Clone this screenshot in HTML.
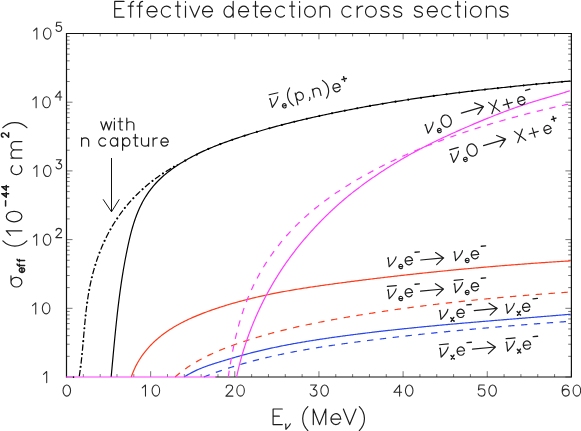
<!DOCTYPE html>
<html><head><meta charset="utf-8"><title>Effective detection cross sections</title>
<style>html,body{margin:0;padding:0;background:#fff;}svg{display:block;}</style></head>
<body>
<svg width="581" height="431" viewBox="0 0 581 431">
<rect width="581" height="431" fill="#fff"/>
<path d="M66.50 377.00 v-5.80 M66.50 33.50 v5.80 M83.33 377.00 v-2.90 M83.33 33.50 v2.90 M100.16 377.00 v-2.90 M100.16 33.50 v2.90 M116.99 377.00 v-2.90 M116.99 33.50 v2.90 M133.82 377.00 v-2.90 M133.82 33.50 v2.90 M150.65 377.00 v-5.80 M150.65 33.50 v5.80 M167.48 377.00 v-2.90 M167.48 33.50 v2.90 M184.31 377.00 v-2.90 M184.31 33.50 v2.90 M201.14 377.00 v-2.90 M201.14 33.50 v2.90 M217.97 377.00 v-2.90 M217.97 33.50 v2.90 M234.80 377.00 v-5.80 M234.80 33.50 v5.80 M251.63 377.00 v-2.90 M251.63 33.50 v2.90 M268.46 377.00 v-2.90 M268.46 33.50 v2.90 M285.29 377.00 v-2.90 M285.29 33.50 v2.90 M302.12 377.00 v-2.90 M302.12 33.50 v2.90 M318.95 377.00 v-5.80 M318.95 33.50 v5.80 M335.78 377.00 v-2.90 M335.78 33.50 v2.90 M352.61 377.00 v-2.90 M352.61 33.50 v2.90 M369.44 377.00 v-2.90 M369.44 33.50 v2.90 M386.27 377.00 v-2.90 M386.27 33.50 v2.90 M403.10 377.00 v-5.80 M403.10 33.50 v5.80 M419.93 377.00 v-2.90 M419.93 33.50 v2.90 M436.76 377.00 v-2.90 M436.76 33.50 v2.90 M453.59 377.00 v-2.90 M453.59 33.50 v2.90 M470.42 377.00 v-2.90 M470.42 33.50 v2.90 M487.25 377.00 v-5.80 M487.25 33.50 v5.80 M504.08 377.00 v-2.90 M504.08 33.50 v2.90 M520.91 377.00 v-2.90 M520.91 33.50 v2.90 M537.74 377.00 v-2.90 M537.74 33.50 v2.90 M554.57 377.00 v-2.90 M554.57 33.50 v2.90 M571.40 377.00 v-5.80 M571.40 33.50 v5.80 M66.50 377.00 h6.00 M571.40 377.00 h-6.00 M66.50 356.32 h3.20 M571.40 356.32 h-3.20 M66.50 344.22 h3.20 M571.40 344.22 h-3.20 M66.50 335.64 h3.20 M571.40 335.64 h-3.20 M66.50 328.98 h3.20 M571.40 328.98 h-3.20 M66.50 323.54 h3.20 M571.40 323.54 h-3.20 M66.50 318.94 h3.20 M571.40 318.94 h-3.20 M66.50 314.96 h3.20 M571.40 314.96 h-3.20 M66.50 311.44 h3.20 M571.40 311.44 h-3.20 M66.50 308.30 h6.00 M571.40 308.30 h-6.00 M66.50 287.62 h3.20 M571.40 287.62 h-3.20 M66.50 275.52 h3.20 M571.40 275.52 h-3.20 M66.50 266.94 h3.20 M571.40 266.94 h-3.20 M66.50 260.28 h3.20 M571.40 260.28 h-3.20 M66.50 254.84 h3.20 M571.40 254.84 h-3.20 M66.50 250.24 h3.20 M571.40 250.24 h-3.20 M66.50 246.26 h3.20 M571.40 246.26 h-3.20 M66.50 242.74 h3.20 M571.40 242.74 h-3.20 M66.50 239.60 h6.00 M571.40 239.60 h-6.00 M66.50 218.92 h3.20 M571.40 218.92 h-3.20 M66.50 206.82 h3.20 M571.40 206.82 h-3.20 M66.50 198.24 h3.20 M571.40 198.24 h-3.20 M66.50 191.58 h3.20 M571.40 191.58 h-3.20 M66.50 186.14 h3.20 M571.40 186.14 h-3.20 M66.50 181.54 h3.20 M571.40 181.54 h-3.20 M66.50 177.56 h3.20 M571.40 177.56 h-3.20 M66.50 174.04 h3.20 M571.40 174.04 h-3.20 M66.50 170.90 h6.00 M571.40 170.90 h-6.00 M66.50 150.22 h3.20 M571.40 150.22 h-3.20 M66.50 138.12 h3.20 M571.40 138.12 h-3.20 M66.50 129.54 h3.20 M571.40 129.54 h-3.20 M66.50 122.88 h3.20 M571.40 122.88 h-3.20 M66.50 117.44 h3.20 M571.40 117.44 h-3.20 M66.50 112.84 h3.20 M571.40 112.84 h-3.20 M66.50 108.86 h3.20 M571.40 108.86 h-3.20 M66.50 105.34 h3.20 M571.40 105.34 h-3.20 M66.50 102.20 h6.00 M571.40 102.20 h-6.00 M66.50 81.52 h3.20 M571.40 81.52 h-3.20 M66.50 69.42 h3.20 M571.40 69.42 h-3.20 M66.50 60.84 h3.20 M571.40 60.84 h-3.20 M66.50 54.18 h3.20 M571.40 54.18 h-3.20 M66.50 48.74 h3.20 M571.40 48.74 h-3.20 M66.50 44.14 h3.20 M571.40 44.14 h-3.20 M66.50 40.16 h3.20 M571.40 40.16 h-3.20 M66.50 36.64 h3.20 M571.40 36.64 h-3.20" stroke="#4a4a4a" stroke-width="0.75" fill="none"/>
<path d="M216.0 377.00 H571.40 V33.50 H66.50 V377.00" fill="none" stroke="#111" stroke-width="1.2" stroke-linejoin="miter" stroke-linecap="square"/>
<g stroke-linecap="butt" stroke-linejoin="round">
<path d="M111.15 377.00 L111.31 375.23 L111.48 373.47 L111.64 371.70 L111.80 369.94 L111.97 368.17 L112.13 366.41 L112.29 364.64 L112.45 362.88 L112.61 361.11 L112.78 359.35 L112.94 357.59 L113.10 355.83 L113.26 354.07 L113.43 352.31 L113.59 350.55 L113.76 348.79 L113.92 347.03 L114.09 345.27 L114.25 343.51 L114.42 341.75 L114.59 340.00 L114.76 338.24 L114.93 336.48 L115.11 334.73 L115.28 332.97 L115.46 331.22 L115.63 329.46 L115.81 327.71 L115.99 325.95 L116.18 324.20 L116.36 322.45 L116.55 320.69 L116.74 318.94 L116.93 317.19 L117.13 315.44 L117.32 313.68 L117.52 311.93 L117.73 310.18 L117.93 308.43 L118.14 306.68 L118.35 304.93 L118.57 303.18 L118.78 301.43 L119.00 299.68 L119.23 297.93 L119.46 296.18 L119.69 294.44 L119.92 292.69 L120.16 290.94 L120.40 289.19 L120.65 287.44 L120.90 285.70 L121.16 283.95 L121.41 282.20 L121.68 280.45 L121.95 278.71 L122.22 276.96 L122.50 275.21 L122.78 273.47 L123.06 271.72 L123.36 269.97 L123.65 268.23 L123.95 266.48 L124.26 264.74 L124.57 262.99 L124.89 261.24 L125.21 259.50 L125.54 257.75 L125.88 256.01 L126.22 254.26 L126.56 252.52 L126.92 250.77 L127.27 249.02 L127.64 247.28 L128.01 245.53 L128.39 243.79 L128.78 242.05 L129.17 240.31 L129.58 238.57 L129.99 236.83 L130.42 235.10 L130.86 233.37 L131.31 231.65 L131.78 229.94 L132.26 228.22 L132.76 226.52 L133.27 224.82 L133.80 223.13 L134.34 221.45 L134.91 219.77 L135.49 218.11 L136.09 216.45 L136.72 214.81 L137.36 213.18 L138.03 211.55 L138.72 209.94 L139.43 208.34 L140.17 206.76 L140.93 205.18 L141.72 203.62 L142.53 202.08 L143.38 200.55 L144.24 199.04 L145.14 197.54 L146.06 196.06 L147.01 194.59 L147.99 193.14 L148.99 191.71 L150.03 190.30 L151.09 188.91 L152.18 187.53 L153.29 186.17 L154.44 184.84 L155.61 183.52 L156.81 182.23 L158.04 180.95 L159.30 179.70 L160.58 178.47 L161.90 177.25 L163.23 176.06 L164.59 174.89 L165.97 173.75 L167.37 172.62 L168.78 171.51 L170.22 170.42 L171.67 169.35 L173.13 168.30 L174.60 167.27 L176.09 166.25 L177.59 165.26 L179.09 164.28 L180.60 163.33 L182.12 162.39 L183.64 161.47 L185.17 160.56 L186.70 159.68 L188.23 158.80 L189.78 157.95 L191.32 157.11 L192.87 156.29 L194.43 155.48 L195.99 154.68 L197.56 153.90 L199.13 153.14 L200.70 152.38 L202.28 151.64 L203.87 150.92 L205.45 150.20 L207.05 149.50 L208.64 148.80 L210.24 148.12 L211.85 147.45 L213.46 146.79 L215.07 146.14 L216.69 145.50 L218.31 144.86 L219.93 144.24 L221.56 143.62 L223.19 143.02 L224.83 142.41 L226.47 141.82 L228.11 141.23 L229.76 140.65 L231.40 140.07 L233.06 139.50 L234.71 138.94 L236.37 138.38 L238.04 137.82 L239.70 137.27 L241.37 136.72 L243.04 136.18 L244.72 135.64 L246.39 135.10 L248.07 134.57 L249.76 134.05 L251.44 133.53 L253.13 133.01 L254.82 132.49 L256.51 131.99 L258.21 131.48 L259.91 130.98 L261.61 130.48 L263.31 129.99 L265.01 129.50 L266.72 129.02 L268.43 128.53 L270.14 128.06 L271.85 127.58 L273.57 127.11 L275.28 126.65 L277.00 126.18 L278.72 125.73 L280.44 125.27 L282.17 124.82 L283.89 124.37 L285.62 123.93 L287.34 123.49 L289.07 123.05 L290.80 122.62 L292.53 122.18 L294.27 121.76 L296.00 121.33 L297.73 120.91 L299.47 120.50 L301.21 120.08 L302.94 119.67 L304.68 119.26 L306.42 118.86 L308.16 118.45 L309.90 118.06 L311.64 117.66 L313.38 117.27 L315.12 116.88 L316.87 116.49 L318.61 116.11 L320.35 115.72 L322.09 115.35 L323.84 114.97 L325.58 114.60 L327.32 114.23 L329.06 113.86 L330.81 113.49 L332.55 113.13 L334.29 112.77 L336.03 112.41 L337.77 112.06 L339.52 111.70 L341.26 111.35 L343.00 111.01 L344.74 110.66 L346.48 110.32 L348.22 109.98 L349.97 109.64 L351.71 109.30 L353.45 108.97 L355.19 108.64 L356.93 108.31 L358.67 107.98 L360.41 107.66 L362.15 107.34 L363.89 107.02 L365.63 106.70 L367.37 106.39 L369.11 106.08 L370.85 105.77 L372.59 105.46 L374.34 105.15 L376.08 104.85 L377.82 104.55 L379.56 104.25 L381.30 103.95 L383.04 103.65 L384.78 103.36 L386.52 103.07 L388.26 102.78 L390.00 102.49 L391.74 102.21 L393.48 101.92 L395.22 101.64 L396.96 101.36 L398.70 101.09 L400.44 100.81 L402.18 100.54 L403.93 100.27 L405.67 100.00 L407.41 99.73 L409.15 99.47 L410.89 99.20 L412.63 98.94 L414.37 98.68 L416.11 98.42 L417.86 98.17 L419.60 97.91 L421.34 97.66 L423.08 97.41 L424.83 97.16 L426.57 96.91 L428.31 96.67 L430.05 96.42 L431.80 96.18 L433.54 95.94 L435.28 95.70 L437.03 95.46 L438.77 95.22 L440.51 94.99 L442.26 94.76 L444.00 94.53 L445.75 94.30 L447.49 94.07 L449.24 93.84 L450.98 93.62 L452.73 93.39 L454.47 93.17 L456.22 92.95 L457.97 92.73 L459.71 92.51 L461.46 92.30 L463.21 92.08 L464.95 91.87 L466.70 91.65 L468.45 91.44 L470.20 91.23 L471.95 91.03 L473.69 90.82 L475.44 90.61 L477.19 90.41 L478.94 90.21 L480.69 90.00 L482.44 89.80 L484.19 89.60 L485.94 89.40 L487.70 89.21 L489.45 89.01 L491.20 88.82 L492.95 88.62 L494.71 88.43 L496.46 88.24 L498.21 88.05 L499.97 87.86 L501.72 87.67 L503.48 87.48 L505.23 87.30 L506.99 87.11 L508.74 86.93 L510.50 86.74 L512.26 86.56 L514.01 86.38 L515.77 86.20 L517.53 86.02 L519.29 85.84 L521.05 85.66 L522.81 85.49 L524.57 85.31 L526.33 85.13 L528.09 84.96 L529.85 84.79 L531.61 84.61 L533.38 84.44 L535.14 84.27 L536.90 84.10 L538.67 83.93 L540.43 83.76 L542.20 83.59 L543.96 83.42 L545.73 83.26 L547.49 83.09 L549.26 82.92 L551.03 82.76 L552.80 82.59 L554.57 82.43 L556.34 82.26 L558.11 82.10 L559.88 81.94 L561.65 81.78 L563.42 81.62 L565.19 81.45 L566.97 81.29 L568.74 81.13 L570.51 80.97" fill="none" stroke="#000" stroke-width="1.20"/>
<path stroke-dashoffset="12.25" d="M79.13 376.98 L79.31 375.89 L79.48 374.79 L79.65 373.69 L79.82 372.59 L79.98 371.49 L80.13 370.38 L80.28 369.28 L80.43 368.17 L80.58 367.06 L80.72 365.95 L80.86 364.83 L80.99 363.72 L81.13 362.60 L81.26 361.48 L81.38 360.36 L81.51 359.24 L81.63 358.12 L81.75 357.00 L81.87 355.87 L81.98 354.74 L82.09 353.62 L82.21 352.49 L82.31 351.36 L82.42 350.23 L82.53 349.09 L82.63 347.96 L82.74 346.83 L82.84 345.69 L82.94 344.56 L83.04 343.42 L83.14 342.28 L83.24 341.14 L83.34 340.01 L83.44 338.87 L83.54 337.73 L83.64 336.59 L83.74 335.44 L83.84 334.30 L83.94 333.16 L84.04 332.02 L84.14 330.87 L84.24 329.73 L84.34 328.59 L84.44 327.44 L84.55 326.30 L84.65 325.16 L84.76 324.01 L84.87 322.87 L84.98 321.72 L85.09 320.58 L85.20 319.44 L85.31 318.29 L85.43 317.15 L85.55 316.00 L85.67 314.86 L85.80 313.72 L85.92 312.57 L86.05 311.43 L86.18 310.29 L86.32 309.15 L86.46 308.01 L86.60 306.87 L86.75 305.73 L86.89 304.59 L87.05 303.45 L87.20 302.31 L87.36 301.18 L87.53 300.04 L87.69 298.90 L87.87 297.77 L88.04 296.64 L88.22 295.51 L88.41 294.37 L88.60 293.24 L88.79 292.11 L89.00 290.99 L89.20 289.86 L89.41 288.73 L89.63 287.61 L89.85 286.49 L90.08 285.37 L90.31 284.25 L90.55 283.13 L90.79 282.01 L91.04 280.90 L91.30 279.78 L91.56 278.67 L91.82 277.56 L92.10 276.45 L92.37 275.34 L92.66 274.24 L92.95 273.13 L93.24 272.03 L93.54 270.93 L93.85 269.84 L94.16 268.74 L94.48 267.65 L94.81 266.56 L95.14 265.47 L95.47 264.38 L95.82 263.30 L96.16 262.21 L96.52 261.13 L96.88 260.06 L97.25 258.98 L97.62 257.91 L98.00 256.84 L98.38 255.77 L98.77 254.71 L99.17 253.64 L99.57 252.58 L99.98 251.53 L100.40 250.47 L100.82 249.42 L101.25 248.37 L101.68 247.33 L102.13 246.29 L102.57 245.25 L103.03 244.21 L103.49 243.18 L103.95 242.15 L104.43 241.12 L104.91 240.10 L105.39 239.08 L105.89 238.06 L106.39 237.04 L106.89 236.03 L107.40 235.03 L107.92 234.02 L108.45 233.02 L108.98 232.03 L109.52 231.03 L110.07 230.04 L110.62 229.06 L111.18 228.08 L111.74 227.10 L112.32 226.12 L112.90 225.15 L113.48 224.19 L114.08 223.23 L114.68 222.27 L115.28 221.31 L115.90 220.36 L116.52 219.42 L117.15 218.47 L117.78 217.54 L118.43 216.60 L119.07 215.67 L119.73 214.75 L120.39 213.83 L121.06 212.91 L121.74 212.00 L122.43 211.09 L123.12 210.19 L123.82 209.29 L124.52 208.40 L125.23 207.51 L125.95 206.63 L126.68 205.75 L127.41 204.88 L128.14 204.01 L128.89 203.14 L129.64 202.28 L130.40 201.43 L131.16 200.58 L131.93 199.74 L132.70 198.90 L133.48 198.07 L134.27 197.24 L135.06 196.42 L135.86 195.61 L136.67 194.80 L137.48 193.99 L138.29 193.19 L139.12 192.40 L139.94 191.61 L140.78 190.83 L141.61 190.05 L142.46 189.28 L143.30 188.52 L144.16 187.76 L145.02 187.01 L145.88 186.26 L146.75 185.52 L147.62 184.79 L148.50 184.06 L149.39 183.34 L150.27 182.63 L151.17 181.92 L152.07 181.22 L152.97 180.53 L153.87 179.84 L154.79 179.16 L155.70 178.48 L156.62 177.82 L157.55 177.16 L158.48 176.50 L159.41 175.85 L160.34 175.21 L161.29 174.58 L162.23 173.95 L163.18 173.33 L164.13 172.71 L165.09 172.10 L166.05 171.50 L167.01 170.90 L167.97 170.31 L168.94 169.72 L169.91 169.13 L170.89 168.55 L171.87 167.98 L172.85 167.40 L173.83 166.84 L174.82 166.27 L175.80 165.71 L176.79 165.16 L177.79 164.60" fill="none" stroke="#000" stroke-width="1.25" stroke-dasharray="6.4 6.5"/>
<path stroke-linecap="round" stroke-dashoffset="2.6" d="M79.13 376.98 L79.31 375.89 L79.48 374.79 L79.65 373.69 L79.82 372.59 L79.98 371.49 L80.13 370.38 L80.28 369.28 L80.43 368.17 L80.58 367.06 L80.72 365.95 L80.86 364.83 L80.99 363.72 L81.13 362.60 L81.26 361.48 L81.38 360.36 L81.51 359.24 L81.63 358.12 L81.75 357.00 L81.87 355.87 L81.98 354.74 L82.09 353.62 L82.21 352.49 L82.31 351.36 L82.42 350.23 L82.53 349.09 L82.63 347.96 L82.74 346.83 L82.84 345.69 L82.94 344.56 L83.04 343.42 L83.14 342.28 L83.24 341.14 L83.34 340.01 L83.44 338.87 L83.54 337.73 L83.64 336.59 L83.74 335.44 L83.84 334.30 L83.94 333.16 L84.04 332.02 L84.14 330.87 L84.24 329.73 L84.34 328.59 L84.44 327.44 L84.55 326.30 L84.65 325.16 L84.76 324.01 L84.87 322.87 L84.98 321.72 L85.09 320.58 L85.20 319.44 L85.31 318.29 L85.43 317.15 L85.55 316.00 L85.67 314.86 L85.80 313.72 L85.92 312.57 L86.05 311.43 L86.18 310.29 L86.32 309.15 L86.46 308.01 L86.60 306.87 L86.75 305.73 L86.89 304.59 L87.05 303.45 L87.20 302.31 L87.36 301.18 L87.53 300.04 L87.69 298.90 L87.87 297.77 L88.04 296.64 L88.22 295.51 L88.41 294.37 L88.60 293.24 L88.79 292.11 L89.00 290.99 L89.20 289.86 L89.41 288.73 L89.63 287.61 L89.85 286.49 L90.08 285.37 L90.31 284.25 L90.55 283.13 L90.79 282.01 L91.04 280.90 L91.30 279.78 L91.56 278.67 L91.82 277.56 L92.10 276.45 L92.37 275.34 L92.66 274.24 L92.95 273.13 L93.24 272.03 L93.54 270.93 L93.85 269.84 L94.16 268.74 L94.48 267.65 L94.81 266.56 L95.14 265.47 L95.47 264.38 L95.82 263.30 L96.16 262.21 L96.52 261.13 L96.88 260.06 L97.25 258.98 L97.62 257.91 L98.00 256.84 L98.38 255.77 L98.77 254.71 L99.17 253.64 L99.57 252.58 L99.98 251.53 L100.40 250.47 L100.82 249.42 L101.25 248.37 L101.68 247.33 L102.13 246.29 L102.57 245.25 L103.03 244.21 L103.49 243.18 L103.95 242.15 L104.43 241.12 L104.91 240.10 L105.39 239.08 L105.89 238.06 L106.39 237.04 L106.89 236.03 L107.40 235.03 L107.92 234.02 L108.45 233.02 L108.98 232.03 L109.52 231.03 L110.07 230.04 L110.62 229.06 L111.18 228.08 L111.74 227.10 L112.32 226.12 L112.90 225.15 L113.48 224.19 L114.08 223.23 L114.68 222.27 L115.28 221.31 L115.90 220.36 L116.52 219.42 L117.15 218.47 L117.78 217.54 L118.43 216.60 L119.07 215.67 L119.73 214.75 L120.39 213.83 L121.06 212.91 L121.74 212.00 L122.43 211.09 L123.12 210.19 L123.82 209.29 L124.52 208.40 L125.23 207.51 L125.95 206.63 L126.68 205.75 L127.41 204.88 L128.14 204.01 L128.89 203.14 L129.64 202.28 L130.40 201.43 L131.16 200.58 L131.93 199.74 L132.70 198.90 L133.48 198.07 L134.27 197.24 L135.06 196.42 L135.86 195.61 L136.67 194.80 L137.48 193.99 L138.29 193.19 L139.12 192.40 L139.94 191.61 L140.78 190.83 L141.61 190.05 L142.46 189.28 L143.30 188.52 L144.16 187.76 L145.02 187.01 L145.88 186.26 L146.75 185.52 L147.62 184.79 L148.50 184.06 L149.39 183.34 L150.27 182.63 L151.17 181.92 L152.07 181.22 L152.97 180.53 L153.87 179.84 L154.79 179.16 L155.70 178.48 L156.62 177.82 L157.55 177.16 L158.48 176.50 L159.41 175.85 L160.34 175.21 L161.29 174.58 L162.23 173.95 L163.18 173.33 L164.13 172.71 L165.09 172.10 L166.05 171.50 L167.01 170.90 L167.97 170.31 L168.94 169.72 L169.91 169.13 L170.89 168.55 L171.87 167.98 L172.85 167.40 L173.83 166.84 L174.82 166.27 L175.80 165.71 L176.79 165.16 L177.79 164.60 L178.78 164.05 L179.78 163.51 L180.78 162.96 L181.78 162.42 L182.78 161.88 L183.79 161.34 L184.79 160.81 L185.80 160.28 L186.81 159.74 L187.82 159.21 L188.83 158.68 L189.84 158.16 L190.86 157.63 L191.87 157.10 L192.89 156.58 L193.90 156.05 L194.92 155.53 L195.94 155.01 L196.96 154.48 L197.97 153.96 L198.99 153.43 L200.70 152.38 L202.28 151.64 L203.87 150.92 L205.45 150.20 L207.05 149.50 L208.64 148.80 L210.24 148.12 L211.85 147.45 L213.46 146.79 L215.07 146.14 L216.69 145.50 L218.31 144.86 L219.93 144.24 L221.56 143.62 L223.19 143.02 L224.83 142.41 L226.47 141.82 L228.11 141.23 L229.76 140.65 L231.40 140.07 L233.06 139.50 L234.71 138.94 L236.37 138.38 L238.04 137.82 L239.70 137.27 L241.37 136.72 L243.04 136.18 L244.72 135.64 L246.39 135.10 L248.07 134.57 L249.76 134.05 L251.44 133.53 L253.13 133.01 L254.82 132.49 L256.51 131.99 L258.21 131.48 L259.91 130.98 L261.61 130.48 L263.31 129.99 L265.01 129.50 L266.72 129.02 L268.43 128.53 L270.14 128.06 L271.85 127.58 L273.57 127.11 L275.28 126.65 L277.00 126.18 L278.72 125.73 L280.44 125.27 L282.17 124.82 L283.89 124.37 L285.62 123.93 L287.34 123.49 L289.07 123.05 L290.80 122.62 L292.53 122.18 L294.27 121.76 L296.00 121.33 L297.73 120.91 L299.47 120.50 L301.21 120.08 L302.94 119.67 L304.68 119.26 L306.42 118.86 L308.16 118.45 L309.90 118.06 L311.64 117.66 L313.38 117.27 L315.12 116.88 L316.87 116.49 L318.61 116.11 L320.35 115.72 L322.09 115.35 L323.84 114.97 L325.58 114.60 L327.32 114.23 L329.06 113.86 L330.81 113.49 L332.55 113.13 L334.29 112.77 L336.03 112.41 L337.77 112.06 L339.52 111.70 L341.26 111.35 L343.00 111.01 L344.74 110.66 L346.48 110.32 L348.22 109.98 L349.97 109.64 L351.71 109.30 L353.45 108.97 L355.19 108.64 L356.93 108.31 L358.67 107.98 L360.41 107.66 L362.15 107.34 L363.89 107.02 L365.63 106.70 L367.37 106.39 L369.11 106.08 L370.85 105.77 L372.59 105.46 L374.34 105.15 L376.08 104.85 L377.82 104.55 L379.56 104.25 L381.30 103.95 L383.04 103.65 L384.78 103.36 L386.52 103.07 L388.26 102.78 L390.00 102.49 L391.74 102.21 L393.48 101.92 L395.22 101.64 L396.96 101.36 L398.70 101.09 L400.44 100.81 L402.18 100.54 L403.93 100.27 L405.67 100.00 L407.41 99.73 L409.15 99.47 L410.89 99.20 L412.63 98.94 L414.37 98.68 L416.11 98.42 L417.86 98.17 L419.60 97.91 L421.34 97.66 L423.08 97.41 L424.83 97.16 L426.57 96.91 L428.31 96.67 L430.05 96.42 L431.80 96.18 L433.54 95.94 L435.28 95.70 L437.03 95.46 L438.77 95.22 L440.51 94.99 L442.26 94.76 L444.00 94.53 L445.75 94.30 L447.49 94.07 L449.24 93.84 L450.98 93.62 L452.73 93.39 L454.47 93.17 L456.22 92.95 L457.97 92.73 L459.71 92.51 L461.46 92.30 L463.21 92.08 L464.95 91.87 L466.70 91.65 L468.45 91.44 L470.20 91.23 L471.95 91.03 L473.69 90.82 L475.44 90.61 L477.19 90.41 L478.94 90.21 L480.69 90.00 L482.44 89.80 L484.19 89.60 L485.94 89.40 L487.70 89.21 L489.45 89.01 L491.20 88.82 L492.95 88.62 L494.71 88.43 L496.46 88.24 L498.21 88.05 L499.97 87.86 L501.72 87.67 L503.48 87.48 L505.23 87.30 L506.99 87.11 L508.74 86.93 L510.50 86.74 L512.26 86.56 L514.01 86.38 L515.77 86.20 L517.53 86.02 L519.29 85.84 L521.05 85.66 L522.81 85.49 L524.57 85.31 L526.33 85.13 L528.09 84.96 L529.85 84.79 L531.61 84.61 L533.38 84.44 L535.14 84.27 L536.90 84.10 L538.67 83.93 L540.43 83.76 L542.20 83.59 L543.96 83.42 L545.73 83.26 L547.49 83.09 L549.26 82.92 L551.03 82.76 L552.80 82.59 L554.57 82.43 L556.34 82.26 L558.11 82.10 L559.88 81.94 L561.65 81.78 L563.42 81.62 L565.19 81.45 L566.97 81.29 L568.74 81.13 L570.51 80.97" fill="none" stroke="#000" stroke-width="2.10" stroke-dasharray="0.01 12.89"/>
<path d="M131.25 377.02 L131.70 375.72 L132.17 374.44 L132.65 373.16 L133.16 371.90 L133.68 370.66 L134.22 369.43 L134.78 368.21 L135.36 367.00 L135.96 365.81 L136.57 364.63 L137.20 363.47 L137.85 362.32 L138.51 361.18 L139.19 360.06 L139.88 358.95 L140.59 357.85 L141.32 356.77 L142.06 355.70 L142.82 354.64 L143.59 353.59 L144.38 352.56 L145.18 351.54 L146.00 350.53 L146.83 349.54 L147.67 348.56 L148.52 347.59 L149.39 346.63 L150.28 345.69 L151.17 344.76 L152.08 343.84 L153.00 342.94 L153.93 342.04 L154.87 341.16 L155.82 340.29 L156.79 339.43 L157.76 338.59 L158.75 337.75 L159.75 336.93 L160.76 336.12 L161.77 335.33 L162.80 334.54 L163.84 333.77 L164.88 333.00 L165.94 332.25 L167.00 331.51 L168.07 330.78 L169.15 330.06 L170.24 329.35 L171.34 328.65 L172.45 327.96 L173.56 327.28 L174.68 326.61 L175.81 325.95 L176.94 325.31 L178.08 324.67 L179.23 324.03 L180.39 323.41 L181.55 322.80 L182.72 322.20 L183.89 321.60 L185.07 321.01 L186.25 320.44 L187.44 319.87 L188.64 319.30 L189.84 318.75 L191.04 318.20 L192.25 317.66 L193.46 317.13 L194.68 316.61 L195.90 316.09 L197.13 315.58 L198.35 315.08 L199.59 314.58 L200.82 314.09 L202.06 313.61 L203.30 313.13 L204.54 312.66 L205.78 312.19 L207.03 311.73 L208.28 311.28 L209.53 310.83 L210.78 310.38 L212.03 309.94 L213.29 309.51 L214.54 309.08 L215.79 308.66 L217.05 308.24 L218.31 307.82 L219.56 307.41 L220.82 307.00 L222.08 306.60 L223.34 306.20 L224.60 305.81 L225.86 305.42 L227.12 305.04 L228.38 304.66 L229.64 304.28 L230.91 303.91 L232.17 303.54 L233.43 303.18 L234.70 302.82 L235.96 302.46 L237.23 302.11 L238.49 301.76 L239.76 301.42 L241.03 301.08 L242.30 300.74 L243.57 300.41 L244.83 300.08 L246.10 299.75 L247.37 299.43 L248.65 299.11 L249.92 298.80 L251.19 298.49 L252.46 298.18 L253.74 297.87 L255.01 297.57 L256.28 297.28 L257.56 296.98 L258.83 296.69 L260.11 296.40 L261.39 296.12 L262.66 295.83 L263.94 295.56 L265.22 295.28 L266.50 295.01 L267.78 294.74 L269.06 294.47 L270.34 294.21 L271.62 293.94 L272.90 293.69 L274.18 293.43 L275.46 293.18 L276.74 292.93 L278.03 292.68 L279.31 292.43 L280.59 292.19 L281.88 291.95 L283.16 291.71 L284.45 291.47 L285.73 291.24 L287.02 291.01 L288.31 290.78 L289.59 290.55 L290.88 290.33 L292.17 290.11 L293.46 289.89 L294.75 289.67 L296.04 289.45 L297.33 289.24 L298.62 289.03 L299.91 288.82 L301.20 288.61 L302.49 288.40 L303.78 288.19 L305.07 287.99 L306.37 287.79 L307.66 287.59 L308.95 287.39 L310.25 287.19 L311.54 287.00 L312.84 286.80 L314.13 286.61 L315.43 286.42 L316.72 286.23 L318.02 286.04 L319.32 285.85 L320.61 285.67 L321.91 285.48 L323.21 285.30 L324.51 285.12 L325.80 284.93 L327.10 284.75 L328.40 284.57 L329.70 284.39 L331.00 284.22 L332.30 284.04 L333.60 283.86 L334.90 283.69 L336.20 283.51 L337.50 283.34 L338.80 283.16 L340.11 282.99 L341.41 282.82 L342.71 282.64 L344.01 282.47 L345.32 282.30 L346.62 282.13 L347.92 281.96 L349.23 281.79 L350.53 281.62 L351.84 281.45 L353.14 281.29 L354.45 281.12 L355.75 280.95 L357.06 280.78 L358.36 280.62 L359.67 280.45 L360.97 280.29 L362.28 280.12 L363.59 279.96 L364.90 279.80 L366.20 279.64 L367.51 279.47 L368.82 279.31 L370.13 279.15 L371.43 278.99 L372.74 278.83 L374.05 278.67 L375.36 278.51 L376.67 278.35 L377.98 278.20 L379.29 278.04 L380.60 277.88 L381.91 277.73 L383.22 277.57 L384.53 277.41 L385.84 277.26 L387.15 277.11 L388.46 276.95 L389.77 276.80 L391.08 276.65 L392.39 276.50 L393.70 276.34 L395.01 276.19 L396.32 276.04 L397.63 275.89 L398.95 275.74 L400.26 275.60 L401.57 275.45 L402.88 275.30 L404.20 275.15 L405.51 275.01 L406.82 274.86 L408.13 274.71 L409.45 274.57 L410.76 274.43 L412.07 274.28 L413.38 274.14 L414.70 274.00 L416.01 273.85 L417.32 273.71 L418.64 273.57 L419.95 273.43 L421.26 273.29 L422.58 273.15 L423.89 273.01 L425.21 272.87 L426.52 272.74 L427.83 272.60 L429.15 272.46 L430.46 272.32 L431.78 272.19 L433.09 272.05 L434.40 271.92 L435.72 271.79 L437.03 271.65 L438.35 271.52 L439.66 271.39 L440.98 271.25 L442.29 271.12 L443.60 270.99 L444.92 270.86 L446.23 270.73 L447.55 270.60 L448.86 270.47 L450.18 270.35 L451.49 270.22 L452.80 270.09 L454.12 269.96 L455.43 269.84 L456.75 269.71 L458.06 269.59 L459.38 269.46 L460.69 269.34 L462.00 269.22 L463.32 269.09 L464.63 268.97 L465.95 268.85 L467.26 268.73 L468.57 268.61 L469.89 268.49 L471.20 268.37 L472.52 268.25 L473.83 268.13 L475.14 268.01 L476.46 267.90 L477.77 267.78 L479.08 267.66 L480.40 267.55 L481.71 267.43 L483.02 267.32 L484.34 267.20 L485.65 267.09 L486.96 266.98 L488.27 266.86 L489.59 266.75 L490.90 266.64 L492.21 266.53 L493.52 266.42 L494.84 266.31 L496.15 266.20 L497.46 266.09 L498.77 265.98 L500.08 265.88 L501.39 265.77 L502.70 265.66 L504.02 265.56 L505.33 265.45 L506.64 265.35 L507.95 265.24 L509.26 265.14 L510.57 265.03 L511.88 264.93 L513.19 264.83 L514.50 264.73 L515.81 264.63 L517.12 264.53 L518.42 264.43 L519.73 264.33 L521.04 264.23 L522.35 264.13 L523.66 264.03 L524.97 263.93 L526.27 263.84 L527.58 263.74 L528.89 263.64 L530.20 263.55 L531.50 263.45 L532.81 263.36 L534.12 263.27 L535.42 263.17 L536.73 263.08 L538.03 262.99 L539.34 262.90 L540.65 262.81 L541.95 262.72 L543.25 262.63 L544.56 262.54 L545.86 262.45 L547.17 262.36 L548.47 262.27 L549.77 262.19 L551.08 262.10 L552.38 262.01 L553.68 261.93 L554.98 261.84 L556.29 261.76 L557.59 261.68 L558.89 261.59 L560.19 261.51 L561.49 261.43 L562.79 261.35 L564.09 261.27 L565.39 261.18 L566.69 261.10 L567.99 261.03 L569.29 260.95 L570.58 260.87" fill="none" stroke="#ff3a1a" stroke-width="1.20"/>
<path d="M175.05 376.97 L175.94 376.21 L176.84 375.45 L177.74 374.70 L178.64 373.96 L179.55 373.23 L180.46 372.52 L181.38 371.81 L182.30 371.11 L183.23 370.42 L184.16 369.74 L185.09 369.07 L186.03 368.40 L186.97 367.75 L187.91 367.11 L188.86 366.47 L189.82 365.84 L190.77 365.22 L191.74 364.61 L192.70 364.01 L193.67 363.41 L194.64 362.83 L195.61 362.25 L196.59 361.68 L197.57 361.11 L198.56 360.55 L199.54 360.00 L200.54 359.46 L201.53 358.93 L202.53 358.40 L203.53 357.87 L204.53 357.36 L205.54 356.85 L206.55 356.35 L207.56 355.85 L208.57 355.36 L209.59 354.87 L210.61 354.39 L211.63 353.92 L212.65 353.45 L213.68 352.99 L214.71 352.53 L215.74 352.08 L216.78 351.63 L217.81 351.19 L218.85 350.75 L219.89 350.32 L220.93 349.89 L221.98 349.47 L223.02 349.05 L224.07 348.63 L225.12 348.22 L226.17 347.81 L227.23 347.41 L228.28 347.01 L229.34 346.61 L230.40 346.22 L231.46 345.83 L232.52 345.44 L233.58 345.06 L234.64 344.67 L235.71 344.29 L236.77 343.92 L237.84 343.55 L238.91 343.17 L239.98 342.81 L241.05 342.44 L242.12 342.08 L243.20 341.72 L244.27 341.36 L245.35 341.01 L246.43 340.66 L247.50 340.31 L248.58 339.96 L249.66 339.62 L250.74 339.27 L251.83 338.93 L252.91 338.60 L254.00 338.26 L255.08 337.93 L256.17 337.60 L257.26 337.28 L258.35 336.95 L259.44 336.63 L260.53 336.31 L261.62 335.99 L262.71 335.68 L263.81 335.36 L264.90 335.05 L266.00 334.75 L267.09 334.44 L268.19 334.14 L269.29 333.83 L270.39 333.53 L271.49 333.24 L272.59 332.94 L273.69 332.65 L274.79 332.36 L275.90 332.07 L277.00 331.78 L278.11 331.50 L279.21 331.22 L280.32 330.94 L281.43 330.66 L282.53 330.38 L283.64 330.11 L284.75 329.83 L285.86 329.56 L286.97 329.29 L288.08 329.03 L289.20 328.76 L290.31 328.50 L291.42 328.24 L292.54 327.98 L293.65 327.72 L294.77 327.46 L295.88 327.21 L297.00 326.96 L298.11 326.71 L299.23 326.46 L300.35 326.21 L301.47 325.96 L302.59 325.72 L303.71 325.48 L304.83 325.24 L305.95 325.00 L307.07 324.76 L308.19 324.52 L309.31 324.29 L310.43 324.06 L311.56 323.82 L312.68 323.59 L313.80 323.37 L314.93 323.14 L316.05 322.91 L317.17 322.69 L318.30 322.47 L319.42 322.24 L320.55 322.02 L321.67 321.80 L322.80 321.59 L323.93 321.37 L325.05 321.16 L326.18 320.94 L327.31 320.73 L328.43 320.52 L329.56 320.31 L330.69 320.10 L331.81 319.89 L332.94 319.68 L334.07 319.48 L335.20 319.27 L336.33 319.07 L337.45 318.87 L338.58 318.67 L339.71 318.47 L340.84 318.27 L341.97 318.07 L343.09 317.87 L344.22 317.67 L345.35 317.48 L346.48 317.28 L347.61 317.09 L348.74 316.90 L349.87 316.71 L350.99 316.52 L352.12 316.33 L353.25 316.14 L354.38 315.95 L355.51 315.76 L356.63 315.57 L357.76 315.39 L358.89 315.20 L360.02 315.02 L361.15 314.83 L362.27 314.65 L363.40 314.47 L364.53 314.29 L365.66 314.11 L366.78 313.93 L367.91 313.75 L369.04 313.57 L370.17 313.39 L371.30 313.22 L372.42 313.04 L373.55 312.86 L374.68 312.69 L375.81 312.52 L376.93 312.34 L378.06 312.17 L379.19 312.00 L380.31 311.83 L381.44 311.66 L382.57 311.49 L383.70 311.32 L384.82 311.16 L385.95 310.99 L387.08 310.83 L388.21 310.66 L389.33 310.50 L390.46 310.33 L391.59 310.17 L392.71 310.01 L393.84 309.85 L394.97 309.69 L396.10 309.53 L397.22 309.37 L398.35 309.21 L399.48 309.05 L400.60 308.89 L401.73 308.74 L402.86 308.58 L403.99 308.43 L405.11 308.27 L406.24 308.12 L407.37 307.97 L408.50 307.81 L409.62 307.66 L410.75 307.51 L411.88 307.36 L413.00 307.21 L414.13 307.07 L415.26 306.92 L416.39 306.77 L417.51 306.62 L418.64 306.48 L419.77 306.33 L420.90 306.19 L422.02 306.04 L423.15 305.90 L424.28 305.76 L425.41 305.62 L426.53 305.48 L427.66 305.34 L428.79 305.20 L429.92 305.06 L431.05 304.92 L432.17 304.78 L433.30 304.64 L434.43 304.51 L435.56 304.37 L436.69 304.24 L437.81 304.10 L438.94 303.97 L440.07 303.83 L441.20 303.70 L442.33 303.57 L443.45 303.44 L444.58 303.31 L445.71 303.18 L446.84 303.05 L447.97 302.92 L449.10 302.79 L450.23 302.66 L451.36 302.53 L452.48 302.41 L453.61 302.28 L454.74 302.16 L455.87 302.03 L457.00 301.91 L458.13 301.78 L459.26 301.66 L460.39 301.54 L461.52 301.42 L462.65 301.29 L463.78 301.17 L464.91 301.05 L466.04 300.93 L467.17 300.81 L468.30 300.70 L469.43 300.58 L470.56 300.46 L471.69 300.34 L472.82 300.23 L473.95 300.11 L475.08 300.00 L476.21 299.88 L477.34 299.77 L478.47 299.65 L479.60 299.54 L480.73 299.43 L481.86 299.32 L482.99 299.21 L484.12 299.09 L485.26 298.98 L486.39 298.87 L487.52 298.76 L488.65 298.66 L489.78 298.55 L490.91 298.44 L492.05 298.33 L493.18 298.23 L494.31 298.12 L495.44 298.01 L496.58 297.91 L497.71 297.80 L498.84 297.70 L499.97 297.60 L501.11 297.49 L502.24 297.39 L503.37 297.29 L504.51 297.19 L505.64 297.08 L506.77 296.98 L507.91 296.88 L509.04 296.78 L510.18 296.68 L511.31 296.59 L512.44 296.49 L513.58 296.39 L514.71 296.29 L515.85 296.19 L516.98 296.10 L518.12 296.00 L519.25 295.91 L520.39 295.81 L521.52 295.72 L522.66 295.62 L523.80 295.53 L524.93 295.43 L526.07 295.34 L527.20 295.25 L528.34 295.16 L529.48 295.06 L530.61 294.97 L531.75 294.88 L532.89 294.79 L534.02 294.70 L535.16 294.61 L536.30 294.52 L537.44 294.43 L538.57 294.34 L539.71 294.26 L540.85 294.17 L541.99 294.08 L543.13 293.99 L544.27 293.91 L545.41 293.82 L546.54 293.73 L547.68 293.65 L548.82 293.56 L549.96 293.48 L551.10 293.40 L552.24 293.31 L553.38 293.23 L554.52 293.14 L555.66 293.06 L556.80 292.98 L557.95 292.90 L559.09 292.82 L560.23 292.73 L561.37 292.65 L562.51 292.57 L563.65 292.49 L564.80 292.41 L565.94 292.33 L567.08 292.25 L568.22 292.17 L569.37 292.10 L570.51 292.02" fill="none" stroke="#ff3a1a" stroke-width="1.20" stroke-dasharray="6.4 6.5"/>
<path d="M184.23 377.00 L185.22 376.36 L186.22 375.74 L187.21 375.13 L188.21 374.54 L189.21 373.97 L190.21 373.42 L191.21 372.87 L192.21 372.35 L193.22 371.84 L194.22 371.34 L195.23 370.85 L196.23 370.38 L197.24 369.92 L198.25 369.47 L199.26 369.04 L200.27 368.61 L201.28 368.19 L202.30 367.79 L203.31 367.39 L204.33 367.01 L205.34 366.63 L206.36 366.25 L207.38 365.89 L208.40 365.53 L209.42 365.18 L210.44 364.84 L211.46 364.50 L212.48 364.16 L213.51 363.83 L214.53 363.50 L215.56 363.18 L216.59 362.86 L217.61 362.54 L218.64 362.22 L219.67 361.91 L220.70 361.59 L221.74 361.28 L222.77 360.96 L223.80 360.65 L224.84 360.34 L225.87 360.02 L226.91 359.71 L227.94 359.40 L228.98 359.09 L230.02 358.78 L231.06 358.47 L232.10 358.17 L233.14 357.86 L234.18 357.56 L235.23 357.25 L236.27 356.95 L237.32 356.65 L238.36 356.35 L239.41 356.06 L240.45 355.76 L241.50 355.47 L242.55 355.18 L243.60 354.90 L244.65 354.61 L245.70 354.33 L246.75 354.05 L247.80 353.77 L248.86 353.49 L249.91 353.22 L250.96 352.95 L252.02 352.68 L253.08 352.41 L254.13 352.14 L255.19 351.88 L256.25 351.62 L257.30 351.36 L258.36 351.11 L259.42 350.85 L260.48 350.60 L261.55 350.35 L262.61 350.10 L263.67 349.85 L264.73 349.61 L265.80 349.37 L266.86 349.13 L267.92 348.89 L268.99 348.65 L270.06 348.42 L271.12 348.18 L272.19 347.95 L273.26 347.73 L274.32 347.50 L275.39 347.27 L276.46 347.05 L277.53 346.83 L278.60 346.61 L279.67 346.39 L280.74 346.17 L281.82 345.96 L282.89 345.74 L283.96 345.53 L285.03 345.32 L286.11 345.12 L287.18 344.91 L288.26 344.70 L289.33 344.50 L290.41 344.30 L291.48 344.10 L292.56 343.90 L293.64 343.70 L294.71 343.51 L295.79 343.31 L296.87 343.12 L297.95 342.93 L299.03 342.74 L300.11 342.55 L301.19 342.36 L302.27 342.18 L303.35 341.99 L304.43 341.81 L305.51 341.63 L306.59 341.45 L307.67 341.27 L308.75 341.09 L309.83 340.91 L310.92 340.74 L312.00 340.56 L313.08 340.39 L314.17 340.22 L315.25 340.05 L316.33 339.88 L317.42 339.71 L318.50 339.54 L319.59 339.37 L320.67 339.21 L321.76 339.04 L322.84 338.88 L323.93 338.72 L325.02 338.56 L326.10 338.40 L327.19 338.24 L328.27 338.08 L329.36 337.92 L330.45 337.76 L331.53 337.61 L332.62 337.45 L333.71 337.30 L334.80 337.15 L335.88 336.99 L336.97 336.84 L338.06 336.69 L339.15 336.54 L340.24 336.39 L341.32 336.24 L342.41 336.10 L343.50 335.95 L344.59 335.80 L345.68 335.66 L346.77 335.51 L347.86 335.37 L348.94 335.22 L350.03 335.08 L351.12 334.94 L352.21 334.79 L353.30 334.65 L354.39 334.51 L355.48 334.37 L356.57 334.23 L357.66 334.10 L358.75 333.96 L359.84 333.82 L360.93 333.68 L362.02 333.55 L363.11 333.41 L364.20 333.28 L365.29 333.14 L366.38 333.01 L367.47 332.88 L368.56 332.75 L369.65 332.62 L370.74 332.48 L371.83 332.35 L372.92 332.22 L374.01 332.10 L375.11 331.97 L376.20 331.84 L377.29 331.71 L378.38 331.58 L379.47 331.46 L380.56 331.33 L381.65 331.21 L382.74 331.08 L383.84 330.96 L384.93 330.84 L386.02 330.71 L387.11 330.59 L388.20 330.47 L389.29 330.35 L390.39 330.23 L391.48 330.11 L392.57 329.99 L393.66 329.87 L394.75 329.75 L395.85 329.63 L396.94 329.51 L398.03 329.40 L399.12 329.28 L400.22 329.16 L401.31 329.05 L402.40 328.93 L403.49 328.82 L404.59 328.70 L405.68 328.59 L406.77 328.48 L407.86 328.36 L408.96 328.25 L410.05 328.14 L411.14 328.03 L412.23 327.92 L413.33 327.80 L414.42 327.69 L415.51 327.58 L416.61 327.48 L417.70 327.37 L418.79 327.26 L419.89 327.15 L420.98 327.04 L422.07 326.93 L423.17 326.83 L424.26 326.72 L425.35 326.61 L426.45 326.51 L427.54 326.40 L428.63 326.30 L429.73 326.19 L430.82 326.09 L431.91 325.99 L433.01 325.88 L434.10 325.78 L435.19 325.68 L436.29 325.57 L437.38 325.47 L438.47 325.37 L439.57 325.27 L440.66 325.17 L441.75 325.07 L442.85 324.97 L443.94 324.87 L445.03 324.77 L446.13 324.67 L447.22 324.57 L448.31 324.47 L449.41 324.37 L450.50 324.27 L451.60 324.17 L452.69 324.07 L453.78 323.98 L454.88 323.88 L455.97 323.78 L457.06 323.69 L458.16 323.59 L459.25 323.49 L460.34 323.40 L461.44 323.30 L462.53 323.21 L463.62 323.11 L464.72 323.02 L465.81 322.92 L466.91 322.83 L468.00 322.73 L469.09 322.64 L470.19 322.54 L471.28 322.45 L472.37 322.36 L473.47 322.26 L474.56 322.17 L475.65 322.08 L476.75 321.99 L477.84 321.89 L478.93 321.80 L480.03 321.71 L481.12 321.62 L482.21 321.52 L483.31 321.43 L484.40 321.34 L485.49 321.25 L486.59 321.16 L487.68 321.07 L488.77 320.98 L489.86 320.89 L490.96 320.80 L492.05 320.70 L493.14 320.61 L494.24 320.52 L495.33 320.43 L496.42 320.34 L497.52 320.25 L498.61 320.16 L499.70 320.07 L500.79 319.98 L501.89 319.90 L502.98 319.81 L504.07 319.72 L505.16 319.63 L506.26 319.54 L507.35 319.45 L508.44 319.36 L509.53 319.27 L510.63 319.18 L511.72 319.09 L512.81 319.00 L513.90 318.91 L514.99 318.83 L516.09 318.74 L517.18 318.65 L518.27 318.56 L519.36 318.47 L520.45 318.38 L521.54 318.29 L522.64 318.21 L523.73 318.12 L524.82 318.03 L525.91 317.94 L527.00 317.85 L528.09 317.76 L529.18 317.67 L530.27 317.58 L531.37 317.50 L532.46 317.41 L533.55 317.32 L534.64 317.23 L535.73 317.14 L536.82 317.05 L537.91 316.96 L539.00 316.87 L540.09 316.78 L541.18 316.69 L542.27 316.61 L543.36 316.52 L544.45 316.43 L545.54 316.34 L546.63 316.25 L547.72 316.16 L548.81 316.07 L549.90 315.98 L550.99 315.89 L552.08 315.80 L553.17 315.71 L554.26 315.62 L555.35 315.53 L556.44 315.44 L557.53 315.35 L558.62 315.26 L559.70 315.16 L560.79 315.07 L561.88 314.98 L562.97 314.89 L564.06 314.80 L565.15 314.71 L566.23 314.62 L567.32 314.52 L568.41 314.43 L569.50 314.34 L570.59 314.25" fill="none" stroke="#2846f0" stroke-width="1.20"/>
<path d="M203.75 376.96 L204.72 376.57 L205.70 376.19 L206.68 375.82 L207.66 375.44 L208.64 375.07 L209.63 374.70 L210.61 374.33 L211.59 373.97 L212.57 373.61 L213.55 373.25 L214.54 372.90 L215.52 372.54 L216.51 372.19 L217.49 371.85 L218.48 371.50 L219.46 371.16 L220.45 370.82 L221.43 370.48 L222.42 370.14 L223.41 369.81 L224.40 369.48 L225.38 369.15 L226.37 368.83 L227.36 368.51 L228.35 368.19 L229.34 367.87 L230.33 367.55 L231.32 367.24 L232.31 366.93 L233.30 366.62 L234.29 366.32 L235.29 366.01 L236.28 365.71 L237.27 365.41 L238.27 365.12 L239.26 364.82 L240.25 364.53 L241.25 364.24 L242.24 363.95 L243.24 363.67 L244.23 363.39 L245.23 363.10 L246.23 362.83 L247.22 362.55 L248.22 362.27 L249.22 362.00 L250.22 361.73 L251.21 361.46 L252.21 361.20 L253.21 360.93 L254.21 360.67 L255.21 360.41 L256.21 360.15 L257.21 359.90 L258.21 359.64 L259.21 359.39 L260.22 359.14 L261.22 358.89 L262.22 358.65 L263.22 358.40 L264.23 358.16 L265.23 357.92 L266.23 357.68 L267.24 357.44 L268.24 357.21 L269.25 356.97 L270.25 356.74 L271.26 356.51 L272.26 356.29 L273.27 356.06 L274.27 355.83 L275.28 355.61 L276.29 355.39 L277.30 355.17 L278.30 354.95 L279.31 354.74 L280.32 354.52 L281.33 354.31 L282.34 354.10 L283.35 353.89 L284.36 353.68 L285.37 353.48 L286.38 353.27 L287.39 353.07 L288.40 352.86 L289.41 352.66 L290.42 352.47 L291.43 352.27 L292.44 352.07 L293.46 351.88 L294.47 351.68 L295.48 351.49 L296.50 351.30 L297.51 351.11 L298.52 350.93 L299.54 350.74 L300.55 350.55 L301.57 350.37 L302.58 350.19 L303.60 350.01 L304.61 349.83 L305.63 349.65 L306.64 349.47 L307.66 349.30 L308.68 349.12 L309.69 348.95 L310.71 348.78 L311.73 348.60 L312.74 348.43 L313.76 348.26 L314.78 348.10 L315.80 347.93 L316.82 347.76 L317.84 347.60 L318.85 347.44 L319.87 347.27 L320.89 347.11 L321.91 346.95 L322.93 346.79 L323.95 346.63 L324.97 346.48 L325.99 346.32 L327.02 346.16 L328.04 346.01 L329.06 345.85 L330.08 345.70 L331.10 345.55 L332.12 345.40 L333.15 345.25 L334.17 345.10 L335.19 344.95 L336.22 344.80 L337.24 344.65 L338.26 344.51 L339.29 344.36 L340.31 344.22 L341.33 344.07 L342.36 343.93 L343.38 343.78 L344.41 343.64 L345.43 343.50 L346.46 343.36 L347.48 343.22 L348.51 343.08 L349.53 342.94 L350.56 342.80 L351.59 342.66 L352.61 342.52 L353.64 342.39 L354.67 342.25 L355.69 342.11 L356.72 341.98 L357.75 341.84 L358.77 341.71 L359.80 341.58 L360.83 341.44 L361.86 341.31 L362.88 341.17 L363.91 341.04 L364.94 340.91 L365.97 340.78 L367.00 340.65 L368.03 340.52 L369.06 340.39 L370.09 340.26 L371.12 340.13 L372.14 340.00 L373.17 339.87 L374.20 339.74 L375.23 339.61 L376.26 339.48 L377.29 339.36 L378.33 339.23 L379.36 339.10 L380.39 338.98 L381.42 338.85 L382.45 338.73 L383.48 338.60 L384.51 338.48 L385.54 338.35 L386.57 338.23 L387.61 338.10 L388.64 337.98 L389.67 337.86 L390.70 337.74 L391.73 337.61 L392.76 337.49 L393.80 337.37 L394.83 337.25 L395.86 337.13 L396.89 337.01 L397.93 336.89 L398.96 336.77 L399.99 336.65 L401.03 336.54 L402.06 336.42 L403.09 336.30 L404.13 336.18 L405.16 336.07 L406.19 335.95 L407.23 335.83 L408.26 335.72 L409.30 335.60 L410.33 335.49 L411.36 335.37 L412.40 335.26 L413.43 335.14 L414.47 335.03 L415.50 334.92 L416.53 334.80 L417.57 334.69 L418.60 334.58 L419.64 334.47 L420.67 334.35 L421.71 334.24 L422.74 334.13 L423.78 334.02 L424.81 333.91 L425.85 333.80 L426.88 333.69 L427.92 333.58 L428.95 333.47 L429.99 333.36 L431.02 333.26 L432.06 333.15 L433.09 333.04 L434.13 332.93 L435.16 332.83 L436.20 332.72 L437.24 332.61 L438.27 332.51 L439.31 332.40 L440.34 332.30 L441.38 332.19 L442.41 332.09 L443.45 331.98 L444.49 331.88 L445.52 331.78 L446.56 331.67 L447.59 331.57 L448.63 331.47 L449.66 331.37 L450.70 331.26 L451.74 331.16 L452.77 331.06 L453.81 330.96 L454.84 330.86 L455.88 330.76 L456.92 330.66 L457.95 330.56 L458.99 330.46 L460.02 330.36 L461.06 330.26 L462.10 330.16 L463.13 330.06 L464.17 329.97 L465.20 329.87 L466.24 329.77 L467.28 329.67 L468.31 329.58 L469.35 329.48 L470.38 329.38 L471.42 329.29 L472.45 329.19 L473.49 329.10 L474.53 329.00 L475.56 328.91 L476.60 328.81 L477.63 328.72 L478.67 328.63 L479.70 328.53 L480.74 328.44 L481.78 328.35 L482.81 328.25 L483.85 328.16 L484.88 328.07 L485.92 327.98 L486.95 327.88 L487.99 327.79 L489.02 327.70 L490.06 327.61 L491.09 327.52 L492.13 327.43 L493.16 327.34 L494.20 327.25 L495.23 327.16 L496.27 327.07 L497.30 326.98 L498.34 326.89 L499.37 326.81 L500.41 326.72 L501.44 326.63 L502.47 326.54 L503.51 326.45 L504.54 326.37 L505.58 326.28 L506.61 326.19 L507.64 326.11 L508.68 326.02 L509.71 325.93 L510.75 325.85 L511.78 325.76 L512.81 325.68 L513.85 325.59 L514.88 325.51 L515.91 325.42 L516.95 325.34 L517.98 325.26 L519.01 325.17 L520.04 325.09 L521.08 325.00 L522.11 324.92 L523.14 324.84 L524.17 324.76 L525.21 324.67 L526.24 324.59 L527.27 324.51 L528.30 324.43 L529.33 324.35 L530.37 324.27 L531.40 324.18 L532.43 324.10 L533.46 324.02 L534.49 323.94 L535.52 323.86 L536.55 323.78 L537.58 323.70 L538.61 323.62 L539.64 323.54 L540.67 323.47 L541.70 323.39 L542.73 323.31 L543.76 323.23 L544.79 323.15 L545.82 323.07 L546.85 323.00 L547.88 322.92 L548.91 322.84 L549.94 322.76 L550.97 322.69 L552.00 322.61 L553.02 322.53 L554.05 322.46 L555.08 322.38 L556.11 322.30 L557.14 322.23 L558.16 322.15 L559.19 322.08 L560.22 322.00 L561.24 321.93 L562.27 321.85 L563.30 321.78 L564.32 321.70 L565.35 321.63 L566.38 321.55 L567.40 321.48 L568.43 321.41 L569.45 321.33 L570.48 321.26" fill="none" stroke="#2846f0" stroke-width="1.20" stroke-dasharray="6.4 6.5"/>
<path d="M228.27 377.04 L228.46 375.72 L228.66 374.41 L228.86 373.09 L229.06 371.78 L229.27 370.46 L229.48 369.15 L229.69 367.84 L229.90 366.53 L230.12 365.22 L230.34 363.91 L230.56 362.60 L230.79 361.29 L231.01 359.98 L231.25 358.67 L231.48 357.37 L231.72 356.06 L231.97 354.76 L232.21 353.46 L232.46 352.15 L232.72 350.85 L232.97 349.55 L233.24 348.26 L233.50 346.96 L233.77 345.66 L234.05 344.37 L234.33 343.08 L234.61 341.78 L234.90 340.49 L235.19 339.21 L235.49 337.92 L235.79 336.63 L236.09 335.35 L236.41 334.07 L236.72 332.79 L237.05 331.51 L237.37 330.23 L237.70 328.96 L238.04 327.69 L238.39 326.41 L238.73 325.15 L239.09 323.88 L239.45 322.61 L239.81 321.35 L240.19 320.09 L240.56 318.83 L240.95 317.58 L241.34 316.32 L241.73 315.07 L242.13 313.82 L242.54 312.58 L242.96 311.33 L243.38 310.09 L243.81 308.85 L244.24 307.61 L244.68 306.38 L245.13 305.15 L245.59 303.92 L246.05 302.69 L246.52 301.47 L247.00 300.25 L247.48 299.03 L247.97 297.82 L248.47 296.61 L248.98 295.40 L249.49 294.19 L250.02 292.99 L250.54 291.79 L251.08 290.59 L251.62 289.40 L252.17 288.21 L252.73 287.03 L253.30 285.84 L253.87 284.66 L254.45 283.49 L255.03 282.31 L255.63 281.14 L256.23 279.98 L256.83 278.82 L257.45 277.66 L258.07 276.50 L258.70 275.35 L259.33 274.20 L259.97 273.06 L260.62 271.92 L261.28 270.78 L261.94 269.65 L262.61 268.52 L263.29 267.40 L263.97 266.28 L264.66 265.16 L265.35 264.05 L266.06 262.94 L266.77 261.84 L267.48 260.74 L268.20 259.64 L268.93 258.55 L269.67 257.47 L270.41 256.38 L271.16 255.31 L271.91 254.23 L272.67 253.16 L273.44 252.10 L274.21 251.04 L274.99 249.99 L275.78 248.94 L276.57 247.89 L277.37 246.85 L278.18 245.82 L278.99 244.78 L279.80 243.76 L280.63 242.74 L281.46 241.72 L282.29 240.71 L283.13 239.71 L283.98 238.70 L284.83 237.71 L285.69 236.72 L286.56 235.73 L287.43 234.75 L288.31 233.78 L289.19 232.81 L290.08 231.85 L290.97 230.89 L291.87 229.94 L292.78 228.99 L293.69 228.05 L294.60 227.11 L295.53 226.18 L296.45 225.25 L297.38 224.33 L298.32 223.41 L299.27 222.50 L300.21 221.59 L301.17 220.69 L302.13 219.79 L303.09 218.90 L304.06 218.02 L305.03 217.13 L306.01 216.26 L306.99 215.39 L307.98 214.52 L308.97 213.66 L309.96 212.80 L310.97 211.95 L311.97 211.10 L312.98 210.26 L313.99 209.42 L315.01 208.59 L316.04 207.76 L317.06 206.93 L318.09 206.11 L319.13 205.30 L320.17 204.49 L321.21 203.68 L322.26 202.88 L323.31 202.08 L324.36 201.29 L325.42 200.50 L326.48 199.72 L327.55 198.94 L328.62 198.17 L329.69 197.40 L330.76 196.63 L331.84 195.87 L332.93 195.11 L334.01 194.36 L335.10 193.61 L336.19 192.86 L337.29 192.12 L338.39 191.39 L339.49 190.66 L340.59 189.93 L341.70 189.20 L342.81 188.48 L343.92 187.77 L345.03 187.06 L346.15 186.35 L347.27 185.64 L348.40 184.94 L349.52 184.25 L350.65 183.55 L351.78 182.87 L352.91 182.18 L354.05 181.50 L355.18 180.82 L356.32 180.15 L357.46 179.48 L358.61 178.81 L359.75 178.15 L360.90 177.49 L362.05 176.84 L363.20 176.19 L364.35 175.54 L365.50 174.89 L366.66 174.25 L367.81 173.62 L368.97 172.98 L370.13 172.35 L371.29 171.73 L372.46 171.10 L373.62 170.48 L374.79 169.87 L375.95 169.25 L377.12 168.64 L378.29 168.04 L379.46 167.43 L380.64 166.83 L381.81 166.24 L382.98 165.64 L384.16 165.05 L385.34 164.46 L386.52 163.88 L387.70 163.30 L388.88 162.72 L390.06 162.15 L391.25 161.58 L392.43 161.01 L393.62 160.44 L394.81 159.88 L396.00 159.32 L397.19 158.77 L398.38 158.21 L399.57 157.66 L400.77 157.12 L401.97 156.57 L403.16 156.03 L404.36 155.49 L405.56 154.96 L406.76 154.43 L407.96 153.90 L409.16 153.37 L410.37 152.84 L411.57 152.32 L412.78 151.81 L413.99 151.29 L415.20 150.78 L416.41 150.27 L417.62 149.76 L418.83 149.25 L420.04 148.75 L421.26 148.25 L422.47 147.76 L423.69 147.26 L424.91 146.77 L426.12 146.28 L427.34 145.79 L428.56 145.31 L429.79 144.83 L431.01 144.35 L432.23 143.87 L433.46 143.40 L434.68 142.93 L435.91 142.46 L437.14 141.99 L438.37 141.53 L439.60 141.07 L440.83 140.61 L442.06 140.15 L443.29 139.69 L444.52 139.24 L445.76 138.79 L446.99 138.34 L448.23 137.90 L449.47 137.45 L450.70 137.01 L451.94 136.57 L453.18 136.13 L454.42 135.70 L455.66 135.27 L456.91 134.83 L458.15 134.41 L459.39 133.98 L460.64 133.55 L461.88 133.13 L463.13 132.71 L464.38 132.29 L465.63 131.88 L466.87 131.46 L468.12 131.05 L469.37 130.64 L470.63 130.23 L471.88 129.82 L473.13 129.42 L474.38 129.01 L475.64 128.61 L476.89 128.21 L478.15 127.81 L479.40 127.42 L480.66 127.02 L481.92 126.63 L483.18 126.24 L484.44 125.85 L485.70 125.46 L486.96 125.08 L488.22 124.69 L489.48 124.31 L490.74 123.93 L492.00 123.55 L493.27 123.18 L494.53 122.80 L495.80 122.43 L497.06 122.06 L498.33 121.69 L499.59 121.32 L500.86 120.96 L502.13 120.59 L503.40 120.23 L504.66 119.87 L505.93 119.51 L507.20 119.15 L508.47 118.80 L509.74 118.45 L511.02 118.09 L512.29 117.74 L513.56 117.40 L514.83 117.05 L516.11 116.71 L517.38 116.36 L518.65 116.02 L519.93 115.69 L521.20 115.35 L522.48 115.01 L523.75 114.68 L525.03 114.35 L526.31 114.02 L527.58 113.69 L528.86 113.36 L530.14 113.04 L531.42 112.72 L532.69 112.40 L533.97 112.08 L535.25 111.76 L536.53 111.44 L537.81 111.13 L539.09 110.82 L540.37 110.51 L541.65 110.20 L542.93 109.89 L544.22 109.59 L545.50 109.29 L546.78 108.98 L548.06 108.68 L549.34 108.39 L550.63 108.09 L551.91 107.80 L553.19 107.50 L554.48 107.21 L555.76 106.92 L557.04 106.64 L558.33 106.35 L559.61 106.07 L560.90 105.79 L562.18 105.51 L563.47 105.23 L564.75 104.95 L566.04 104.68 L567.32 104.41 L568.61 104.13 L569.89 103.87" fill="none" stroke="#ff3cff" stroke-width="1.20" stroke-dasharray="6.4 6.5"/>
<path d="M65.90 377.00 C91.00 377.00 191.40 377.00 216.50 377.00" fill="none" stroke="#ff3cff" stroke-width="1.20"/>
<path d="M236.62 377.00 L236.88 375.74 L237.16 374.48 L237.44 373.22 L237.72 371.96 L238.01 370.71 L238.30 369.45 L238.60 368.20 L238.91 366.95 L239.22 365.70 L239.54 364.44 L239.86 363.19 L240.19 361.95 L240.52 360.70 L240.86 359.45 L241.20 358.21 L241.55 356.96 L241.90 355.72 L242.26 354.48 L242.62 353.24 L242.99 352.00 L243.37 350.77 L243.75 349.53 L244.13 348.30 L244.52 347.06 L244.91 345.83 L245.31 344.60 L245.72 343.38 L246.13 342.15 L246.55 340.92 L246.97 339.70 L247.39 338.48 L247.82 337.26 L248.26 336.04 L248.70 334.82 L249.15 333.61 L249.60 332.40 L250.05 331.18 L250.51 329.97 L250.98 328.77 L251.45 327.56 L251.93 326.36 L252.41 325.15 L252.89 323.95 L253.38 322.76 L253.88 321.56 L254.38 320.37 L254.89 319.17 L255.40 317.98 L255.91 316.79 L256.43 315.61 L256.96 314.42 L257.49 313.24 L258.02 312.06 L258.56 310.89 L259.11 309.71 L259.66 308.54 L260.21 307.37 L260.77 306.20 L261.34 305.03 L261.91 303.87 L262.48 302.71 L263.06 301.55 L263.64 300.39 L264.23 299.24 L264.82 298.09 L265.42 296.94 L266.02 295.79 L266.63 294.65 L267.24 293.51 L267.86 292.37 L268.48 291.23 L269.10 290.10 L269.73 288.97 L270.37 287.84 L271.01 286.71 L271.65 285.59 L272.30 284.47 L272.95 283.35 L273.61 282.24 L274.27 281.13 L274.94 280.02 L275.61 278.91 L276.29 277.81 L276.97 276.71 L277.65 275.61 L278.34 274.52 L279.04 273.43 L279.73 272.34 L280.44 271.26 L281.14 270.18 L281.86 269.10 L282.57 268.02 L283.29 266.95 L284.02 265.88 L284.75 264.82 L285.48 263.75 L286.22 262.69 L286.96 261.64 L287.71 260.59 L288.46 259.54 L289.22 258.49 L289.98 257.45 L290.74 256.41 L291.51 255.37 L292.28 254.34 L293.06 253.31 L293.84 252.28 L294.63 251.26 L295.42 250.24 L296.21 249.22 L297.01 248.21 L297.81 247.20 L298.61 246.19 L299.42 245.18 L300.24 244.18 L301.06 243.18 L301.88 242.19 L302.70 241.20 L303.53 240.21 L304.37 239.22 L305.20 238.24 L306.04 237.26 L306.89 236.29 L307.74 235.31 L308.59 234.35 L309.45 233.38 L310.31 232.42 L311.17 231.46 L312.04 230.50 L312.91 229.55 L313.79 228.59 L314.66 227.65 L315.55 226.70 L316.43 225.76 L317.32 224.82 L318.21 223.89 L319.11 222.96 L320.01 222.03 L320.91 221.10 L321.82 220.18 L322.73 219.26 L323.64 218.34 L324.56 217.43 L325.48 216.52 L326.41 215.61 L327.33 214.71 L328.26 213.81 L329.20 212.91 L330.14 212.02 L331.08 211.13 L332.02 210.24 L332.97 209.36 L333.92 208.48 L334.87 207.60 L335.83 206.73 L336.79 205.86 L337.75 205.00 L338.72 204.14 L339.68 203.28 L340.66 202.43 L341.63 201.59 L342.61 200.75 L343.59 199.92 L344.57 199.08 L345.56 198.26 L346.55 197.44 L347.54 196.62 L348.54 195.81 L349.54 195.00 L350.54 194.20 L351.54 193.40 L352.55 192.61 L353.56 191.81 L354.57 191.03 L355.59 190.24 L356.61 189.46 L357.63 188.69 L358.65 187.91 L359.68 187.14 L360.70 186.37 L361.73 185.61 L362.77 184.84 L363.80 184.08 L364.84 183.33 L365.89 182.57 L366.93 181.82 L367.98 181.07 L369.02 180.33 L370.08 179.58 L371.13 178.84 L372.19 178.11 L373.24 177.37 L374.31 176.64 L375.37 175.91 L376.43 175.19 L377.50 174.46 L378.57 173.74 L379.64 173.03 L380.72 172.31 L381.80 171.60 L382.88 170.89 L383.96 170.19 L385.04 169.49 L386.13 168.79 L387.21 168.09 L388.30 167.40 L389.40 166.71 L390.49 166.03 L391.59 165.34 L392.69 164.66 L393.79 163.99 L394.89 163.31 L395.99 162.64 L397.10 161.97 L398.21 161.31 L399.32 160.65 L400.43 159.99 L401.54 159.34 L402.66 158.69 L403.78 158.04 L404.90 157.39 L406.02 156.75 L407.14 156.11 L408.27 155.48 L409.39 154.85 L410.52 154.22 L411.65 153.59 L412.78 152.97 L413.92 152.35 L415.05 151.74 L416.19 151.13 L417.33 150.52 L418.47 149.91 L419.61 149.31 L420.75 148.71 L421.90 148.12 L423.04 147.53 L424.19 146.94 L425.34 146.35 L426.49 145.77 L427.64 145.19 L428.79 144.61 L429.95 144.03 L431.11 143.46 L432.26 142.89 L433.42 142.32 L434.58 141.76 L435.74 141.19 L436.91 140.63 L438.07 140.07 L439.24 139.52 L440.40 138.96 L441.57 138.41 L442.74 137.86 L443.91 137.32 L445.08 136.77 L446.25 136.23 L447.43 135.69 L448.60 135.15 L449.78 134.61 L450.95 134.07 L452.13 133.54 L453.31 133.00 L454.49 132.47 L455.67 131.94 L456.85 131.41 L458.03 130.88 L459.22 130.36 L460.40 129.83 L461.59 129.31 L462.77 128.79 L463.96 128.27 L465.15 127.75 L466.34 127.23 L467.53 126.72 L468.72 126.20 L469.91 125.69 L471.10 125.18 L472.30 124.67 L473.49 124.16 L474.68 123.65 L475.88 123.15 L477.08 122.64 L478.27 122.14 L479.47 121.64 L480.67 121.14 L481.87 120.64 L483.07 120.15 L484.27 119.65 L485.48 119.16 L486.68 118.67 L487.88 118.18 L489.09 117.69 L490.29 117.20 L491.50 116.72 L492.71 116.24 L493.91 115.76 L495.12 115.28 L496.33 114.80 L497.54 114.33 L498.75 113.85 L499.96 113.38 L501.17 112.92 L502.38 112.45 L503.60 111.99 L504.81 111.53 L506.03 111.08 L507.24 110.62 L508.46 110.17 L509.67 109.72 L510.89 109.28 L512.11 108.84 L513.32 108.40 L514.54 107.96 L515.76 107.53 L516.98 107.10 L518.20 106.68 L519.42 106.26 L520.64 105.84 L521.87 105.43 L523.09 105.02 L524.31 104.61 L525.54 104.21 L526.76 103.81 L527.99 103.42 L529.21 103.03 L530.44 102.64 L531.66 102.26 L532.89 101.88 L534.12 101.50 L535.34 101.12 L536.57 100.75 L537.80 100.38 L539.03 100.01 L540.26 99.65 L541.49 99.28 L542.72 98.92 L543.95 98.56 L545.18 98.19 L546.41 97.83 L547.65 97.47 L548.88 97.11 L550.11 96.75 L551.34 96.39 L552.58 96.03 L553.81 95.66 L555.05 95.30 L556.28 94.93 L557.52 94.57 L558.75 94.20 L559.99 93.83 L561.22 93.45 L562.46 93.08 L563.70 92.70 L564.93 92.32 L566.17 91.93 L567.41 91.54 L568.65 91.15 L569.88 90.75" fill="none" stroke="#ff3cff" stroke-width="1.20"/>
<circle cx="73.5" cy="377.10" r="0.85" fill="#000" stroke="none"/>
</g>
<path d="M111.5 158 V211.8 M103.1 199.3 L111.5 211.8 L119.3 199.3" fill="none" stroke="#111" stroke-width="1"/>
<g fill="none" stroke="#1c1c1c" stroke-linecap="round" stroke-linejoin="round">
<g transform="translate(0.00 17.20) rotate(0.00) translate(0.00 0)"><path d="M 124.02 -15.80 L 114.70 -15.80 L 114.70 0.00 L 124.02 0.00 M 114.70 -8.53 L 121.02 -8.53 M 133.70 -15.80 A 3.00 3.00 0.00 0 0 130.70 -12.80 L 130.70 0.00 M 128.17 -11.06 L 133.23 -11.06 M 142.60 -15.80 A 3.00 3.00 0.00 0 0 139.60 -12.80 L 139.60 0.00 M 137.07 -11.06 L 142.13 -11.06 M 147.10 -5.53 L 157.05 -5.53 A 4.98 5.53 0.00 1 0 156.15 -2.35 M 170.39 -9.23 A 5.21 5.53 0.00 1 0 170.39 -1.83 M 177.80 -15.80 L 177.80 -1.42 A 1.42 1.42 0.00 0 0 179.22 0.00 L 179.70 0.00 M 175.43 -11.06 L 180.49 -11.06 M 185.50 -11.06 L 185.50 0.00 M 185.50 -15.64 L 185.50 -14.85 M 190.00 -11.06 L 194.74 0.00 L 199.48 -11.06 M 202.60 -5.53 L 212.55 -5.53 A 4.98 5.53 0.00 1 0 211.65 -2.35 M 233.16 -5.53 A 4.58 5.53 0.00 1 0 224.00 -5.53 A 4.58 5.53 0.00 1 0 233.16 -5.53 M 233.16 -15.80 L 233.16 0.00 M 238.70 -5.53 L 248.65 -5.53 A 4.98 5.53 0.00 1 0 247.75 -2.35 M 255.50 -15.80 L 255.50 -1.42 A 1.42 1.42 0.00 0 0 256.92 0.00 L 257.40 0.00 M 253.13 -11.06 L 258.19 -11.06 M 260.90 -5.53 L 270.85 -5.53 A 4.98 5.53 0.00 1 0 269.95 -2.35 M 284.48 -9.23 A 5.21 5.53 0.00 1 0 284.48 -1.83 M 292.00 -15.80 L 292.00 -1.42 A 1.42 1.42 0.00 0 0 293.42 0.00 L 293.90 0.00 M 289.63 -11.06 L 294.69 -11.06 M 299.60 -11.06 L 299.60 0.00 M 299.60 -15.64 L 299.60 -14.85 M 315.34 -5.53 A 5.37 5.53 0.00 1 0 304.60 -5.53 A 5.37 5.53 0.00 1 0 315.34 -5.53 M 320.20 -11.06 L 320.20 0.00 M 320.20 -7.11 A 4.74 3.95 0.00 0 1 329.68 -7.11 L 329.68 0.00 M 350.88 -9.23 A 5.21 5.53 0.00 1 0 350.88 -1.83 M 357.20 -11.06 L 357.20 0.00 M 357.20 -6.64 A 5.53 4.42 0.00 0 1 362.73 -11.06 M 376.24 -5.53 A 5.37 5.53 0.00 1 0 365.50 -5.53 A 5.37 5.53 0.00 1 0 376.24 -5.53 M 388.82 -9.01 C 388.18 -10.43 386.60 -11.06 384.87 -11.06 C 382.65 -11.06 381.07 -9.95 381.07 -8.22 C 381.07 -6.64 382.50 -6.00 384.87 -5.53 C 387.39 -5.06 388.97 -4.42 388.97 -2.84 C 388.97 -1.11 387.24 0.00 384.87 0.00 C 382.97 0.00 381.39 -0.79 380.76 -2.21 M 401.62 -9.01 C 400.98 -10.43 399.40 -11.06 397.67 -11.06 C 395.45 -11.06 393.87 -9.95 393.87 -8.22 C 393.87 -6.64 395.30 -6.00 397.67 -5.53 C 400.19 -5.06 401.77 -4.42 401.77 -2.84 C 401.77 -1.11 400.04 0.00 397.67 0.00 C 395.77 0.00 394.19 -0.79 393.56 -2.21 M 422.32 -9.01 C 421.68 -10.43 420.10 -11.06 418.37 -11.06 C 416.15 -11.06 414.57 -9.95 414.57 -8.22 C 414.57 -6.64 416.00 -6.00 418.37 -5.53 C 420.89 -5.06 422.47 -4.42 422.47 -2.84 C 422.47 -1.11 420.74 0.00 418.37 0.00 C 416.47 0.00 414.89 -0.79 414.26 -2.21 M 427.40 -5.53 L 437.35 -5.53 A 4.98 5.53 0.00 1 0 436.45 -2.35 M 450.69 -9.23 A 5.21 5.53 0.00 1 0 450.69 -1.83 M 457.70 -15.80 L 457.70 -1.42 A 1.42 1.42 0.00 0 0 459.12 0.00 L 459.60 0.00 M 455.33 -11.06 L 460.39 -11.06 M 465.60 -11.06 L 465.60 0.00 M 465.60 -15.64 L 465.60 -14.85 M 481.14 -5.53 A 5.37 5.53 0.00 1 0 470.40 -5.53 A 5.37 5.53 0.00 1 0 481.14 -5.53 M 486.40 -11.06 L 486.40 0.00 M 486.40 -7.11 A 4.74 3.95 0.00 0 1 495.88 -7.11 L 495.88 0.00 M 507.92 -9.01 C 507.28 -10.43 505.70 -11.06 503.97 -11.06 C 501.75 -11.06 500.17 -9.95 500.17 -8.22 C 500.17 -6.64 501.60 -6.00 503.97 -5.53 C 506.49 -5.06 508.07 -4.42 508.07 -2.84 C 508.07 -1.11 506.34 0.00 503.97 0.00 C 502.07 0.00 500.49 -0.79 499.86 -2.21" stroke-width="1.20"/></g>
<g transform="translate(66.80 396.10) rotate(0.00) translate(-5.16 0)"><path d="M 8.94 -5.55 A 3.77 5.55 0.00 1 0 1.39 -5.55 A 3.77 5.55 0.00 1 0 8.94 -5.55" stroke-width="1.08" stroke="#2a2a2a"/></g>
<g transform="translate(150.95 396.10) rotate(0.00) translate(-9.91 0)"><path d="M 1.22 -8.21 L 4.44 -11.10 L 4.44 0.00 M 18.59 -5.55 A 3.77 5.55 0.00 1 0 11.04 -5.55 A 3.77 5.55 0.00 1 0 18.59 -5.55" stroke-width="1.08" stroke="#2a2a2a"/></g>
<g transform="translate(235.10 396.10) rotate(0.00) translate(-10.13 0)"><path d="M 1.22 -8.44 C 1.22 -9.99 2.66 -11.10 4.44 -11.10 C 6.22 -11.10 7.66 -9.99 7.66 -8.32 C 7.66 -6.88 6.66 -5.77 5.11 -4.44 L 0.89 0.00 L 7.99 0.00 M 19.37 -5.55 A 3.77 5.55 0.00 1 0 11.82 -5.55 A 3.77 5.55 0.00 1 0 19.37 -5.55" stroke-width="1.08" stroke="#2a2a2a"/></g>
<g transform="translate(319.25 396.10) rotate(0.00) translate(-10.02 0)"><path d="M 1.33 -11.10 L 7.33 -11.10 L 4.00 -6.66 C 5.99 -6.88 7.77 -5.55 7.77 -3.44 C 7.77 -1.33 6.22 0.00 4.22 0.00 C 2.55 0.00 1.33 -0.89 0.89 -2.22 M 19.15 -5.55 A 3.77 5.55 0.00 1 0 11.60 -5.55 A 3.77 5.55 0.00 1 0 19.15 -5.55" stroke-width="1.08" stroke="#2a2a2a"/></g>
<g transform="translate(403.40 396.10) rotate(0.00) translate(-10.46 0)"><path d="M 6.66 0.00 L 6.66 -11.10 L 0.89 -3.77 L 8.66 -3.77 M 20.04 -5.55 A 3.77 5.55 0.00 1 0 12.49 -5.55 A 3.77 5.55 0.00 1 0 20.04 -5.55" stroke-width="1.08" stroke="#2a2a2a"/></g>
<g transform="translate(487.25 396.10) rotate(0.00) translate(-10.02 0)"><path d="M 7.10 -11.10 L 1.78 -11.10 L 1.22 -6.22 C 2.00 -6.88 3.11 -7.33 4.33 -7.33 C 6.44 -7.33 7.77 -5.77 7.77 -3.66 C 7.77 -1.55 6.33 0.00 4.22 0.00 C 2.55 0.00 1.33 -0.89 0.89 -2.22 M 19.15 -5.55 A 3.77 5.55 0.00 1 0 11.60 -5.55 A 3.77 5.55 0.00 1 0 19.15 -5.55" stroke-width="1.08" stroke="#2a2a2a"/></g>
<g transform="translate(571.40 396.10) rotate(0.00) translate(-10.13 0)"><path d="M 7.10 -9.55 C 6.66 -10.54 5.77 -11.10 4.55 -11.10 C 2.22 -11.10 0.89 -8.88 0.89 -5.33 C 0.89 -1.78 2.22 0.00 4.55 0.00 C 6.55 0.00 7.99 -1.44 7.99 -3.55 C 7.99 -5.55 6.55 -6.99 4.55 -6.99 C 2.55 -6.99 1.11 -5.55 0.89 -4.00 M 19.37 -5.55 A 3.77 5.55 0.00 1 0 11.82 -5.55 A 3.77 5.55 0.00 1 0 19.37 -5.55" stroke-width="1.08" stroke="#2a2a2a"/></g>
<g transform="translate(46.70 382.60) rotate(0.00) translate(-4.44 0)"><path d="M 1.22 -8.21 L 4.44 -11.10 L 4.44 0.00" stroke-width="1.08" stroke="#2a2a2a"/></g>
<g transform="translate(49.90 313.90) rotate(0.00) translate(-18.59 0)"><path d="M 1.22 -8.21 L 4.44 -11.10 L 4.44 0.00 M 18.59 -5.55 A 3.77 5.55 0.00 1 0 11.04 -5.55 A 3.77 5.55 0.00 1 0 18.59 -5.55" stroke-width="1.08" stroke="#2a2a2a"/></g>
<g transform="translate(61.70 245.20) rotate(0.00) translate(-29.47 0)"><path d="M 1.22 -8.21 L 4.44 -11.10 L 4.44 0.00 M 18.59 -5.55 A 3.77 5.55 0.00 1 0 11.04 -5.55 A 3.77 5.55 0.00 1 0 18.59 -5.55 M 23.85 -14.60 C 23.85 -15.89 25.05 -16.81 26.52 -16.81 C 28.00 -16.81 29.19 -15.89 29.19 -14.51 C 29.19 -13.31 28.36 -12.39 27.07 -11.29 L 23.57 -7.60 L 29.47 -7.60" stroke-width="1.08" stroke="#2a2a2a"/></g>
<g transform="translate(61.70 176.50) rotate(0.00) translate(-29.29 0)"><path d="M 1.22 -8.21 L 4.44 -11.10 L 4.44 0.00 M 18.59 -5.55 A 3.77 5.55 0.00 1 0 11.04 -5.55 A 3.77 5.55 0.00 1 0 18.59 -5.55 M 23.94 -16.81 L 28.92 -16.81 L 26.15 -13.13 C 27.81 -13.31 29.29 -12.21 29.29 -10.46 C 29.29 -8.71 28.00 -7.60 26.34 -7.60 C 24.96 -7.60 23.94 -8.34 23.57 -9.44" stroke-width="1.08" stroke="#2a2a2a"/></g>
<g transform="translate(61.70 107.80) rotate(0.00) translate(-30.02 0)"><path d="M 1.22 -8.21 L 4.44 -11.10 L 4.44 0.00 M 18.59 -5.55 A 3.77 5.55 0.00 1 0 11.04 -5.55 A 3.77 5.55 0.00 1 0 18.59 -5.55 M 28.36 -7.60 L 28.36 -16.81 L 23.57 -10.73 L 30.02 -10.73" stroke-width="1.08" stroke="#2a2a2a"/></g>
<g transform="translate(61.70 39.10) rotate(0.00) translate(-29.29 0)"><path d="M 1.22 -8.21 L 4.44 -11.10 L 4.44 0.00 M 18.59 -5.55 A 3.77 5.55 0.00 1 0 11.04 -5.55 A 3.77 5.55 0.00 1 0 18.59 -5.55 M 28.73 -16.81 L 24.31 -16.81 L 23.85 -12.76 C 24.49 -13.31 25.42 -13.68 26.43 -13.68 C 28.18 -13.68 29.29 -12.39 29.29 -10.64 C 29.29 -8.89 28.09 -7.60 26.34 -7.60 C 24.96 -7.60 23.94 -8.34 23.57 -9.44" stroke-width="1.08" stroke="#2a2a2a"/></g>
<g transform="translate(0.00 424.60) rotate(0.00) translate(0.00 0)"><path d="M 282.30 -15.60 L 273.10 -15.60 L 273.10 0.00 L 282.30 0.00 M 273.10 -8.42 L 279.34 -8.42 M 285.47 -0.33 L 285.80 -0.53 L 285.87 4.64 C 287.28 3.43 289.76 1.48 290.30 -0.66 M 307.85 -18.03 C 300.98 -11.32 300.98 -0.72 307.85 5.99 M 313.30 0.00 L 313.30 -15.60 L 319.54 0.00 L 325.78 -15.60 L 325.78 0.00 M 331.00 -5.46 L 340.83 -5.46 A 4.91 5.46 0.00 1 0 339.94 -2.32 M 343.40 -15.60 L 349.72 0.00 L 356.04 -15.60 M 359.30 -18.03 C 366.16 -11.32 366.16 -0.72 359.30 5.99" stroke-width="1.20"/></g>
<g transform="translate(21.90 287.60) rotate(-90.00) translate(0.00 0)"><path d="M 11.83 -10.92 L 5.44 -10.92 A 4.84 5.46 0.00 1 0 10.27 -5.46 C 10.27 -8.11 8.40 -10.61 5.90 -10.92 M 46.65 -19.03 C 39.78 -12.32 39.78 -1.72 46.65 4.99 M 52.28 -11.54 L 56.80 -15.60 L 56.80 0.00 M 76.31 -7.80 A 5.30 7.80 0.00 1 0 65.70 -7.80 A 5.30 7.80 0.00 1 0 76.31 -7.80 M 121.87 -9.11 A 5.15 5.46 0.00 1 0 121.87 -1.81 M 129.50 -10.92 L 129.50 0.00 M 129.50 -7.02 A 4.13 3.90 0.00 0 1 137.77 -7.02 L 137.77 0.00 M 137.77 -7.02 A 4.13 3.90 0.00 0 1 146.04 -7.02 L 146.04 0.00 M 159.90 -19.03 C 166.76 -12.32 166.76 -1.72 159.90 4.99" stroke-width="1.20"/><path d="M 15.20 0.08 L 19.92 0.08 A 2.36 2.62 0.00 1 0 19.49 1.58 M 23.62 -4.79 A 1.42 1.42 0.00 0 0 22.20 -3.37 L 22.20 2.70 M 21.00 -2.54 L 23.40 -2.54 M 28.42 -4.79 A 1.42 1.42 0.00 0 0 27.00 -3.37 L 27.00 2.70 M 25.80 -2.54 L 28.20 -2.54 M 81.50 -16.32 L 86.93 -16.32 M 93.97 -13.30 L 93.97 -20.16 L 90.40 -15.63 L 95.20 -15.63 M 100.83 -13.30 L 100.83 -20.16 L 97.26 -15.63 L 102.07 -15.63 M 150.52 -18.75 C 150.52 -19.76 151.45 -20.48 152.60 -20.48 C 153.74 -20.48 154.68 -19.76 154.68 -18.68 C 154.68 -17.75 154.03 -17.03 153.03 -16.17 L 150.30 -13.30 L 154.89 -13.30" stroke-width="1.50"/></g>
<g transform="translate(0.00 130.00) rotate(0.00) translate(0.00 0)"><path d="M 100.80 -8.26 L 103.51 0.00 L 106.23 -8.26 L 108.94 0.00 L 111.66 -8.26 M 114.40 -8.26 L 114.40 0.00 M 114.40 -11.68 L 114.40 -11.09 M 120.10 -11.80 L 120.10 -1.30 A 1.30 1.30 0.00 0 0 121.40 0.00 L 122.58 0.00 M 118.09 -8.26 L 122.70 -8.26 M 126.80 -11.80 L 126.80 0.00 M 126.80 -5.31 A 3.54 2.95 0.00 0 1 133.88 -5.31 L 133.88 0.00" stroke-width="1.20"/></g>
<g transform="translate(0.00 146.20) rotate(0.00) translate(0.00 0)"><path d="M 81.60 -8.26 L 81.60 0.00 M 81.60 -5.31 A 3.54 2.95 0.00 0 1 88.68 -5.31 L 88.68 0.00 M 105.58 -6.89 A 3.89 4.13 0.00 1 0 105.58 -1.37 M 117.62 -4.13 A 3.66 4.13 0.00 1 0 110.30 -4.13 A 3.66 4.13 0.00 1 0 117.62 -4.13 M 117.62 -8.26 L 117.62 0.00 M 129.92 -4.13 A 3.66 4.13 0.00 1 0 122.60 -4.13 A 3.66 4.13 0.00 1 0 129.92 -4.13 M 122.60 -8.26 L 122.60 4.01 M 135.30 -11.80 L 135.30 -1.30 A 1.30 1.30 0.00 0 0 136.60 0.00 L 137.78 0.00 M 133.29 -8.26 L 137.90 -8.26 M 141.50 -8.26 L 141.50 -2.95 A 3.54 2.95 0.00 0 0 148.58 -2.95 M 148.58 -8.26 L 148.58 0.00 M 153.10 -8.26 L 153.10 0.00 M 153.10 -4.96 A 4.13 3.30 0.00 0 1 157.23 -8.26 M 160.90 -4.13 L 168.33 -4.13 A 3.72 4.13 0.00 1 0 167.66 -1.76" stroke-width="1.20"/></g>
<g transform="translate(270.93 107.07) rotate(-13.00) translate(0.00 0)"><path d="M 0.56 -8.14 L 1.15 -8.50 L 1.27 0.59 C 3.75 -1.53 8.12 -4.96 9.06 -8.73 M 1.00 -12.39 L 9.97 -12.39 M 22.49 -14.40 C 17.30 -9.32 17.30 -1.30 22.49 3.78 M 34.12 -4.13 A 3.66 4.13 0.00 1 0 26.80 -4.13 A 3.66 4.13 0.00 1 0 34.12 -4.13 M 26.80 -8.26 L 26.80 4.01 M 39.97 -0.71 L 39.97 0.00 C 39.97 0.94 39.74 1.65 39.03 2.12 M 44.35 -8.26 L 44.35 0.00 M 44.35 -5.31 A 3.54 2.95 0.00 0 1 51.43 -5.31 L 51.43 0.00 M 56.20 -14.40 C 61.39 -9.32 61.39 -1.30 56.20 3.78 M 64.70 -4.13 L 72.13 -4.13 A 3.72 4.13 0.00 1 0 71.46 -1.76" stroke-width="1.20"/><path d="M 11.40 1.81 L 15.34 1.81 A 1.97 2.19 0.00 1 0 14.98 3.07" stroke-width="1.15"/><path d="M 75.40 -10.94 L 79.93 -10.94 M 77.67 -13.20 L 77.67 -8.67" stroke-width="1.50"/></g>
<g transform="translate(426.80 133.00) rotate(-16.50) translate(0.00 0)"><path d="M 0.56 -8.14 L 1.15 -8.50 L 1.27 0.59 C 3.75 -1.53 8.12 -4.96 9.06 -8.73 M 26.91 -5.90 A 4.96 5.90 0.00 1 0 17.00 -5.90 A 4.96 5.90 0.00 1 0 26.91 -5.90 M 38.80 -9.27 L 61.81 -9.27 M 54.26 -15.29 L 61.81 -9.27 L 54.26 -3.26 M 67.90 -11.80 L 76.16 0.00 M 76.16 -11.80 L 67.90 0.00 M 81.20 -5.07 L 90.64 -5.07 M 85.92 -9.79 L 85.92 -0.35 M 96.20 -4.13 L 103.63 -4.13 A 3.72 4.13 0.00 1 0 102.96 -1.76" stroke-width="1.20"/><path d="M 10.80 1.21 L 14.74 1.21 A 1.97 2.19 0.00 1 0 14.38 2.47" stroke-width="1.15"/><path d="M 106.85 -12.68 L 111.29 -12.68" stroke-width="1.30"/></g>
<g transform="translate(452.20 162.10) rotate(-16.50) translate(0.00 0)"><path d="M 0.56 -8.14 L 1.15 -8.50 L 1.27 0.59 C 3.75 -1.53 8.12 -4.96 9.06 -8.73 M 1.00 -12.39 L 9.97 -12.39 M 27.41 -5.90 A 4.96 5.90 0.00 1 0 17.50 -5.90 A 4.96 5.90 0.00 1 0 27.41 -5.90 M 34.70 -6.87 L 57.71 -6.87 M 50.16 -12.89 L 57.71 -6.87 L 50.16 -0.86 M 68.40 -11.80 L 76.66 0.00 M 76.66 -11.80 L 68.40 0.00 M 81.80 -5.07 L 91.24 -5.07 M 86.52 -9.79 L 86.52 -0.35 M 97.00 -4.13 L 104.43 -4.13 A 3.72 4.13 0.00 1 0 103.76 -1.76" stroke-width="1.20"/><path d="M 11.50 1.21 L 15.44 1.21 A 1.97 2.19 0.00 1 0 15.08 2.47" stroke-width="1.15"/><path d="M 107.40 -12.74 L 111.93 -12.74 M 109.67 -15.00 L 109.67 -10.47" stroke-width="1.50"/></g>
<g transform="translate(387.50 266.80) rotate(-5.20) translate(0.00 0)"><path d="M 0.96 -8.64 L 1.55 -9.00 L 1.67 0.09 C 4.15 -2.03 8.52 -5.46 9.46 -9.23 M 18.10 -4.13 L 25.53 -4.13 A 3.72 4.13 0.00 1 0 24.86 -1.76 M 33.70 -3.77 L 56.71 -3.77 M 49.16 -9.79 L 56.71 -3.77 L 49.16 2.24 M 67.66 -8.64 L 68.25 -9.00 L 68.37 0.09 C 70.85 -2.03 75.22 -5.46 76.16 -9.23 M 84.50 -4.13 L 91.93 -4.13 A 3.72 4.13 0.00 1 0 91.26 -1.76" stroke-width="1.20"/><path d="M 11.30 0.91 L 15.24 0.91 A 1.97 2.19 0.00 1 0 14.88 2.17 M 78.00 0.91 L 81.94 0.91 A 1.97 2.19 0.00 1 0 81.58 2.17" stroke-width="1.15"/><path d="M 28.70 -11.98 L 33.14 -11.98 M 95.20 -11.98 L 99.64 -11.98" stroke-width="1.30"/></g>
<g transform="translate(387.50 298.80) rotate(-5.20) translate(0.00 0)"><path d="M 0.96 -8.64 L 1.55 -9.00 L 1.67 0.09 C 4.15 -2.03 8.52 -5.46 9.46 -9.23 M 1.00 -12.39 L 9.97 -12.39 M 18.10 -4.13 L 25.53 -4.13 A 3.72 4.13 0.00 1 0 24.86 -1.76 M 33.60 -4.67 L 56.61 -4.67 M 49.06 -10.69 L 56.61 -4.67 L 49.06 1.34 M 67.66 -8.64 L 68.25 -9.00 L 68.37 0.09 C 70.85 -2.03 75.22 -5.46 76.16 -9.23 M 68.00 -12.39 L 76.97 -12.39 M 84.50 -4.13 L 91.93 -4.13 A 3.72 4.13 0.00 1 0 91.26 -1.76" stroke-width="1.20"/><path d="M 11.30 0.91 L 15.24 0.91 A 1.97 2.19 0.00 1 0 14.88 2.17 M 78.00 0.91 L 81.94 0.91 A 1.97 2.19 0.00 1 0 81.58 2.17" stroke-width="1.15"/><path d="M 28.70 -11.98 L 33.14 -11.98 M 95.20 -11.98 L 99.64 -11.98" stroke-width="1.30"/></g>
<g transform="translate(439.30 319.50) rotate(-5.30) translate(0.00 0)"><path d="M 0.96 -8.64 L 1.55 -9.00 L 1.67 0.09 C 4.15 -2.03 8.52 -5.46 9.46 -9.23 M 18.10 -4.13 L 25.53 -4.13 A 3.72 4.13 0.00 1 0 24.86 -1.76 M 35.60 -5.67 L 58.61 -5.67 M 51.06 -11.69 L 58.61 -5.67 L 51.06 0.34 M 67.66 -8.64 L 68.25 -9.00 L 68.37 0.09 C 70.85 -2.03 75.22 -5.46 76.16 -9.23 M 84.00 -4.13 L 91.43 -4.13 A 3.72 4.13 0.00 1 0 90.76 -1.76" stroke-width="1.20"/><path d="M 11.60 -0.72 L 14.57 3.00 M 14.57 -0.72 L 11.60 3.00 M 78.30 -0.72 L 81.27 3.00 M 81.27 -0.72 L 78.30 3.00" stroke-width="1.50"/><path d="M 28.70 -11.98 L 33.14 -11.98 M 95.20 -11.98 L 99.64 -11.98" stroke-width="1.30"/></g>
<g transform="translate(439.50 357.20) rotate(-5.20) translate(0.00 0)"><path d="M 0.96 -8.64 L 1.55 -9.00 L 1.67 0.09 C 4.15 -2.03 8.52 -5.46 9.46 -9.23 M 1.00 -12.39 L 9.97 -12.39 M 18.10 -4.13 L 25.53 -4.13 A 3.72 4.13 0.00 1 0 24.86 -1.76 M 33.60 -5.07 L 56.61 -5.07 M 49.06 -11.09 L 56.61 -5.07 L 49.06 0.94 M 67.66 -8.64 L 68.25 -9.00 L 68.37 0.09 C 70.85 -2.03 75.22 -5.46 76.16 -9.23 M 68.00 -12.39 L 76.97 -12.39 M 84.50 -4.13 L 91.93 -4.13 A 3.72 4.13 0.00 1 0 91.26 -1.76" stroke-width="1.20"/><path d="M 11.60 -0.72 L 14.57 3.00 M 14.57 -0.72 L 11.60 3.00 M 78.30 -0.72 L 81.27 3.00 M 81.27 -0.72 L 78.30 3.00" stroke-width="1.50"/><path d="M 28.70 -11.98 L 33.14 -11.98 M 95.20 -11.98 L 99.64 -11.98" stroke-width="1.30"/></g>
</g>
</svg>
</body></html>
